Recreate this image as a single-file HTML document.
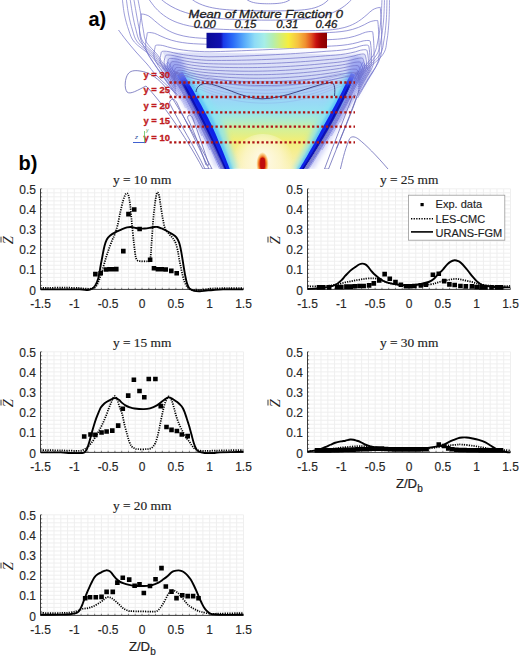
<!DOCTYPE html>
<html><head><meta charset="utf-8"><style>
html,body{margin:0;padding:0;background:#fff;width:520px;height:659px;overflow:hidden}
svg{display:block}
.tk{font-family:"Liberation Sans",sans-serif;font-size:12px;fill:#262626;stroke:#262626;stroke-width:0.14px}
.lg{font-family:"Liberation Sans",sans-serif;font-size:11px;fill:#1e1e1e;stroke:#1e1e1e;stroke-width:0.15px}
.ttl{font-family:"Liberation Serif",serif;font-size:12.3px;fill:#222;stroke:#222;stroke-width:0.15px}
.yl{font-family:"Liberation Serif",serif;font-style:italic;font-size:14.5px;fill:#262626}
.xl{font-family:"Liberation Sans",sans-serif;font-size:13.2px;fill:#222;stroke:#222;stroke-width:0.2px}
.cbt{font-family:"Liberation Sans",sans-serif;font-style:italic;font-size:11.6px;fill:#1a1a1a;stroke:#1a1a1a;stroke-width:0.3px}
.cbl{font-family:"Liberation Sans",sans-serif;font-style:italic;font-size:10.3px;fill:#1a1a1a;stroke:#1a1a1a;stroke-width:0.3px}
.rl{font-family:"Liberation Sans",sans-serif;font-weight:bold;font-size:9.4px;fill:#c01a1e;stroke:#c01a1e;stroke-width:0.3px}
.lab{font-family:"Liberation Sans",sans-serif;font-weight:bold;font-size:20px;fill:#000}
</style></head><body>
<svg width="520" height="659" viewBox="0 0 520 659">
<rect width="520" height="659" fill="#fff"/>
<defs>
<clipPath id="pa"><rect x="118" y="0" width="275" height="169.0"/></clipPath>
<linearGradient id="vg" x1="0" y1="55" x2="0" y2="170" gradientUnits="userSpaceOnUse">
<stop offset="0" stop-color="#dcdff8"/>
<stop offset="0.174" stop-color="#c8d4f6"/>
<stop offset="0.304" stop-color="#b0cef6"/>
<stop offset="0.409" stop-color="#98d8f6"/>
<stop offset="0.496" stop-color="#96e4f0"/>
<stop offset="0.583" stop-color="#b4ecc4"/>
<stop offset="0.652" stop-color="#d6f096"/>
<stop offset="0.739" stop-color="#f0ee78"/>
<stop offset="0.843" stop-color="#f6ee92"/>
<stop offset="1" stop-color="#faf2b8"/>
</linearGradient>
<linearGradient id="lav" x1="0" y1="48" x2="0" y2="80" gradientUnits="userSpaceOnUse"><stop offset="0" stop-color="#e8eafa" stop-opacity="0"/><stop offset="0.5" stop-color="#dfe2f8" stop-opacity="0.8"/><stop offset="1" stop-color="#d0d8f6"/></linearGradient>
<linearGradient id="bmg" x1="0" y1="60" x2="0" y2="86" gradientUnits="userSpaceOnUse"><stop offset="0" stop-color="#fff" stop-opacity="0"/><stop offset="1" stop-color="#fff" stop-opacity="1"/></linearGradient>
<mask id="bandmask" maskUnits="userSpaceOnUse" x="100" y="0" width="300" height="180"><rect x="100" y="0" width="300" height="180" fill="url(#bmg)"/></mask>
<radialGradient id="cream" cx="263" cy="158" r="30" gradientUnits="userSpaceOnUse" gradientTransform="translate(263 158) scale(1 1.1) translate(-263 -158)">
<stop offset="0" stop-color="#fffaf0" stop-opacity="0.95"/>
<stop offset="0.6" stop-color="#fff8e0" stop-opacity="0.6"/>
<stop offset="1" stop-color="#fff8e0" stop-opacity="0"/>
</radialGradient>
<radialGradient id="hot" cx="262.5" cy="164" r="9" gradientUnits="userSpaceOnUse" gradientTransform="translate(262.5 164) scale(0.7 1.35) translate(-262.5 -164)">
<stop offset="0" stop-color="#b80000"/>
<stop offset="0.35" stop-color="#d02000"/>
<stop offset="0.6" stop-color="#f07020"/>
<stop offset="0.85" stop-color="#f8c060" stop-opacity="0.6"/>
<stop offset="1" stop-color="#f8e0a0" stop-opacity="0"/>
</radialGradient>
<linearGradient id="cb" x1="206.5" y1="0" x2="327" y2="0" gradientUnits="userSpaceOnUse">
<stop offset="0" stop-color="#0a0a96"/>
<stop offset="0.12" stop-color="#1010b0"/>
<stop offset="0.14" stop-color="#1838e8"/>
<stop offset="0.22" stop-color="#2a6cf8"/>
<stop offset="0.32" stop-color="#5cb0fa"/>
<stop offset="0.40" stop-color="#8edcf6"/>
<stop offset="0.48" stop-color="#a6eee8"/>
<stop offset="0.55" stop-color="#b4eeb0"/>
<stop offset="0.62" stop-color="#d8ee70"/>
<stop offset="0.68" stop-color="#f6ee3e"/>
<stop offset="0.76" stop-color="#f6c040"/>
<stop offset="0.82" stop-color="#f09030"/>
<stop offset="0.87" stop-color="#e05020"/>
<stop offset="0.91" stop-color="#c81010"/>
<stop offset="0.95" stop-color="#a00000"/>
<stop offset="1" stop-color="#880000"/>
</linearGradient>
<filter id="bl1" x="-20%" y="-20%" width="140%" height="140%"><feGaussianBlur stdDeviation="1.2"/></filter>
<filter id="bl2" x="-20%" y="-20%" width="140%" height="140%"><feGaussianBlur stdDeviation="2.5"/></filter>
<filter id="bl05" x="-20%" y="-20%" width="140%" height="140%"><feGaussianBlur stdDeviation="0.6"/></filter>

</defs>
<g clip-path="url(#pa)">
<polygon points="162.4,52.0 164.8,56.0 167.1,60.0 169.4,64.0 171.7,68.0 174.0,72.0 176.2,76.0 178.5,80.0 180.7,84.0 182.8,88.0 185.0,92.0 187.1,96.0 189.3,100.0 191.3,104.0 193.4,108.0 195.5,112.0 197.5,116.0 199.5,120.0 201.5,124.0 203.4,128.0 205.4,132.0 207.3,136.0 209.2,140.0 211.1,144.0 212.9,148.0 214.7,152.0 216.6,156.0 218.3,160.0 220.1,164.0 221.8,168.0 304.8,171.0 307.3,167.0 309.9,163.0 312.4,159.0 314.8,155.0 317.3,151.0 319.7,147.0 322.0,143.0 324.4,139.0 326.7,135.0 328.9,131.0 331.2,127.0 333.4,123.0 335.5,119.0 337.7,115.0 339.7,111.0 341.8,107.0 343.8,103.0 345.8,99.0 347.8,95.0 349.7,91.0 351.6,87.0 353.5,83.0 355.3,79.0 357.1,75.0 358.9,71.0 360.6,67.0 362.3,63.0 364.0,59.0 365.6,55.0" fill="url(#vg)"/>
<polygon points="154.1,48 374.4,48 350.9,80 182.5,80" fill="url(#lav)"/>
<ellipse cx="263" cy="160" rx="30" ry="26" fill="url(#cream)"/>
<ellipse cx="262.5" cy="164" rx="7.5" ry="12" fill="url(#hot)"/><rect x="260.2" y="157.5" width="4.8" height="12" rx="2.4" fill="#c01010" filter="url(#bl05)"/>
<g mask="url(#bandmask)"><path d="M182.28,74.86 C182.86,75.86 184.59,78.88 185.73,80.89 C186.87,82.90 188.00,84.91 189.13,86.92 C190.25,88.93 191.37,90.95 192.48,92.96 C193.59,94.97 194.69,96.98 195.78,98.99 C196.87,101.00 197.95,103.02 199.03,105.03 C200.10,107.04 201.17,109.05 202.23,111.07 C203.28,113.08 204.35,115.09 205.38,117.10 C206.41,119.12 207.42,121.15 208.42,123.17 C209.42,125.20 210.42,127.22 211.37,129.26 C212.33,131.30 213.23,133.36 214.15,135.41 C215.06,137.46 215.97,139.51 216.87,141.56 C217.77,143.61 218.66,145.66 219.54,147.70 C220.42,149.75 221.30,151.80 222.16,153.85 C223.03,155.89 223.88,157.94 224.73,159.99 C225.58,162.04 226.42,164.08 227.25,166.13 C228.08,168.17 229.31,171.24 229.72,172.27 L237.18,169.09 C236.87,168.01 235.95,164.78 235.32,162.62 C234.69,160.47 234.05,158.31 233.41,156.15 C232.76,153.99 232.11,151.83 231.44,149.66 C230.78,147.50 230.10,145.34 229.42,143.17 C228.73,141.00 228.04,138.83 227.34,136.66 C226.64,134.49 225.93,132.32 225.20,130.15 C224.48,127.98 223.87,125.75 223.02,123.63 C222.16,121.51 221.10,119.48 220.08,117.43 C219.06,115.38 218.03,113.34 216.91,111.33 C215.79,109.32 214.56,107.37 213.37,105.39 C212.18,103.42 210.99,101.44 209.78,99.46 C208.58,97.49 207.37,95.52 206.15,93.54 C204.93,91.57 203.70,89.60 202.47,87.63 C201.23,85.65 199.99,83.68 198.74,81.72 C197.48,79.75 196.22,77.78 194.96,75.81 C193.69,73.84 191.77,70.90 191.13,69.91 Z" fill="#8ae4f2" fill-opacity="0.80" filter="url(#bl2)"/><path d="M179.32,71.25 C179.91,72.30 181.72,75.45 182.91,77.54 C184.10,79.64 185.28,81.74 186.45,83.84 C187.62,85.93 188.78,88.03 189.94,90.13 C191.09,92.22 192.23,94.32 193.37,96.42 C194.50,98.52 195.63,100.62 196.74,102.71 C197.86,104.81 198.97,106.91 200.07,109.01 C201.17,111.11 202.26,113.20 203.34,115.30 C204.41,117.41 205.48,119.51 206.53,121.61 C207.58,123.72 208.62,125.82 209.63,127.94 C210.65,130.05 211.63,132.18 212.60,134.30 C213.58,136.42 214.54,138.55 215.50,140.67 C216.45,142.80 217.40,144.92 218.34,147.04 C219.27,149.17 220.20,151.29 221.12,153.41 C222.04,155.54 222.95,157.66 223.85,159.78 C224.75,161.90 225.64,164.02 226.52,166.15 C227.41,168.27 228.71,171.45 229.14,172.51 L233.16,170.80 C232.78,169.71 231.65,166.44 230.88,164.25 C230.12,162.07 229.34,159.88 228.55,157.70 C227.76,155.51 226.96,153.32 226.16,151.14 C225.35,148.95 224.53,146.76 223.71,144.57 C222.88,142.38 222.05,140.19 221.20,138.00 C220.36,135.81 219.51,133.61 218.64,131.42 C217.76,129.23 216.90,127.03 215.93,124.88 C214.96,122.72 213.88,120.62 212.80,118.51 C211.73,116.40 210.61,114.30 209.47,112.22 C208.33,110.13 207.15,108.06 205.98,105.98 C204.81,103.90 203.63,101.82 202.44,99.75 C201.25,97.67 200.06,95.59 198.85,93.52 C197.64,91.44 196.43,89.37 195.20,87.29 C193.98,85.22 192.75,83.14 191.50,81.07 C190.26,79.00 189.01,76.92 187.75,74.85 C186.49,72.78 184.58,69.67 183.95,68.64 Z" fill="#5cc4f8" fill-opacity="0.90" filter="url(#bl1)"/><path d="M176.97,75.21 C177.53,76.24 179.21,79.35 180.32,81.43 C181.43,83.50 182.53,85.57 183.62,87.65 C184.71,89.72 185.80,91.79 186.87,93.87 C187.94,95.94 189.01,98.01 190.06,100.08 C191.12,102.16 192.17,104.23 193.21,106.30 C194.24,108.37 195.27,110.44 196.29,112.52 C197.31,114.59 198.32,116.66 199.33,118.73 C200.34,120.80 201.35,122.86 202.36,124.92 C203.37,126.98 204.36,129.04 205.38,131.08 C206.40,133.13 207.47,135.15 208.50,137.18 C209.53,139.21 210.55,141.24 211.57,143.28 C212.58,145.31 213.59,147.34 214.59,149.37 C215.59,151.41 216.58,153.44 217.56,155.47 C218.54,157.51 219.51,159.54 220.48,161.57 C221.44,163.61 222.40,165.64 223.34,167.68 C224.29,169.71 225.69,172.76 226.16,173.78 L230.87,171.78 C230.46,170.72 229.26,167.57 228.44,165.46 C227.63,163.36 226.80,161.25 225.97,159.14 C225.13,157.04 224.29,154.93 223.43,152.82 C222.58,150.71 221.72,148.60 220.85,146.49 C219.98,144.39 219.10,142.28 218.21,140.17 C217.32,138.06 216.43,135.94 215.52,133.83 C214.61,131.72 213.73,129.60 212.76,127.50 C211.79,125.41 210.75,123.35 209.72,121.29 C208.68,119.22 207.63,117.15 206.56,115.10 C205.49,113.04 204.38,111.00 203.27,108.95 C202.17,106.90 201.06,104.86 199.94,102.81 C198.81,100.76 197.68,98.71 196.55,96.66 C195.41,94.62 194.26,92.57 193.11,90.52 C191.95,88.48 190.79,86.43 189.61,84.39 C188.44,82.34 187.26,80.29 186.07,78.25 C184.88,76.20 183.07,73.14 182.47,72.12 Z" fill="#0a20e8" fill-opacity="1.00" filter="url(#bl05)"/><path d="M180.08,81.32 C180.60,82.29 182.15,85.21 183.18,87.16 C184.20,89.11 185.22,91.06 186.23,93.01 C187.24,94.95 188.24,96.90 189.23,98.85 C190.23,100.80 191.21,102.74 192.19,104.69 C193.17,106.64 194.14,108.58 195.10,110.53 C196.06,112.48 197.02,114.42 197.97,116.37 C198.91,118.31 199.85,120.26 200.79,122.20 C201.74,124.14 202.70,126.07 203.65,128.00 C204.61,129.92 205.56,131.84 206.53,133.76 C207.50,135.67 208.49,137.57 209.45,139.48 C210.42,141.38 211.38,143.29 212.33,145.20 C213.28,147.11 214.23,149.01 215.16,150.92 C216.10,152.83 217.03,154.74 217.95,156.65 C218.87,158.55 219.79,160.46 220.69,162.37 C221.60,164.28 222.50,166.19 223.39,168.10 C224.28,170.01 225.60,172.88 226.04,173.83 L228.11,172.95 C227.70,171.98 226.46,169.07 225.62,167.13 C224.78,165.19 223.94,163.26 223.08,161.32 C222.23,159.38 221.37,157.44 220.50,155.50 C219.63,153.56 218.76,151.62 217.87,149.68 C216.99,147.74 216.10,145.80 215.20,143.86 C214.30,141.92 213.39,139.98 212.47,138.05 C211.56,136.11 210.64,134.17 209.71,132.23 C208.78,130.29 207.83,128.35 206.89,126.41 C205.94,124.47 204.98,122.54 204.02,120.60 C203.05,118.66 202.08,116.72 201.10,114.79 C200.12,112.85 199.13,110.91 198.13,108.98 C197.13,107.04 196.13,105.10 195.12,103.17 C194.10,101.23 193.08,99.29 192.06,97.35 C191.03,95.42 189.99,93.48 188.95,91.54 C187.91,89.61 186.86,87.67 185.80,85.73 C184.74,83.80 183.13,80.89 182.60,79.92 Z" fill="#0000a0" fill-opacity="0.85" filter="url(#bl05)"/><path d="M155.43,63.83 C156.20,64.88 158.52,68.03 160.05,70.14 C161.58,72.24 163.10,74.35 164.61,76.46 C166.12,78.57 167.62,80.68 169.11,82.79 C170.60,84.90 172.08,87.01 173.55,89.12 C175.02,91.24 176.48,93.35 177.93,95.47 C179.38,97.59 180.83,99.71 182.26,101.83 C183.69,103.95 185.12,106.07 186.53,108.19 C187.93,110.32 189.42,112.41 190.69,114.60 C191.95,116.79 192.98,119.10 194.11,121.35 C195.24,123.60 196.36,125.85 197.47,128.10 C198.58,130.35 199.68,132.61 200.76,134.86 C201.85,137.11 202.93,139.36 204.00,141.61 C205.06,143.86 206.12,146.11 207.17,148.36 C208.21,150.61 209.25,152.86 210.27,155.11 C211.30,157.36 212.31,159.61 213.32,161.86 C214.32,164.10 215.80,167.48 216.30,168.60 L222.71,165.80 C222.21,164.67 220.72,161.27 219.71,159.00 C218.70,156.74 217.68,154.47 216.64,152.20 C215.61,149.94 214.57,147.67 213.51,145.41 C212.46,143.14 211.40,140.87 210.32,138.61 C209.25,136.34 208.16,134.07 207.07,131.81 C205.97,129.54 204.86,127.28 203.75,125.01 C202.63,122.74 201.50,120.48 200.36,118.21 C199.23,115.94 198.08,113.68 196.92,111.41 C195.76,109.14 194.59,106.88 193.41,104.61 C192.23,102.34 191.04,100.08 189.83,97.81 C188.63,95.55 187.42,93.28 186.20,91.01 C184.98,88.75 183.74,86.48 182.50,84.21 C181.25,81.95 180.00,79.68 178.74,77.41 C177.47,75.15 176.19,72.88 174.91,70.61 C173.62,68.35 172.33,66.08 171.02,63.81 C169.71,61.54 167.72,58.14 167.06,57.01 Z" fill="#6a72e8" fill-opacity="0.35" filter="url(#bl2)"/><path d="M165.64,60.52 C165.81,60.81 166.32,61.68 166.66,62.26 C166.99,62.84 167.33,63.42 167.67,64.00 C168.00,64.58 168.34,65.17 168.67,65.75 C169.01,66.33 169.34,66.91 169.67,67.49 C170.01,68.07 170.34,68.65 170.67,69.23 C171.00,69.81 171.33,70.39 171.66,70.97 C171.99,71.55 172.32,72.13 172.65,72.71 C172.98,73.30 173.31,73.88 173.64,74.46 C173.96,75.04 174.29,75.62 174.62,76.20 C174.94,76.78 175.27,77.36 175.59,77.94 C175.92,78.52 176.24,79.10 176.57,79.68 C176.89,80.26 177.21,80.84 177.53,81.42 C177.86,82.01 178.18,82.59 178.50,83.17 C178.82,83.75 179.14,84.33 179.46,84.91 C179.78,85.49 180.10,86.07 180.41,86.65 C180.73,87.23 181.21,88.10 181.37,88.39 L187.51,85.04 C187.35,84.75 186.87,83.87 186.55,83.29 C186.23,82.71 185.91,82.12 185.59,81.54 C185.27,80.95 184.95,80.37 184.63,79.78 C184.30,79.20 183.98,78.61 183.66,78.03 C183.33,77.45 183.01,76.86 182.68,76.28 C182.36,75.69 182.03,75.11 181.70,74.52 C181.38,73.94 181.05,73.35 180.72,72.77 C180.39,72.19 180.06,71.60 179.73,71.02 C179.40,70.43 179.07,69.85 178.74,69.26 C178.41,68.68 178.08,68.10 177.75,67.51 C177.41,66.93 177.08,66.34 176.75,65.76 C176.41,65.17 176.08,64.59 175.74,64.00 C175.41,63.42 175.07,62.84 174.74,62.25 C174.40,61.67 174.06,61.08 173.72,60.50 C173.39,59.91 173.05,59.33 172.71,58.75 C172.37,58.16 171.86,57.28 171.69,56.99 Z" fill="#3a48e0" fill-opacity="0.45" filter="url(#bl2)"/><path d="M351.14,75.31 C350.67,76.32 349.28,79.33 348.34,81.33 C347.39,83.34 346.43,85.34 345.46,87.35 C344.49,89.36 343.51,91.36 342.51,93.37 C341.51,95.37 340.50,97.38 339.48,99.38 C338.46,101.39 337.42,103.39 336.37,105.40 C335.33,107.40 334.26,109.41 333.19,111.41 C332.12,113.42 331.02,115.42 329.93,117.43 C328.84,119.43 327.75,121.45 326.64,123.46 C325.53,125.48 324.41,127.49 323.29,129.51 C322.18,131.54 321.09,133.58 319.96,135.61 C318.84,137.65 317.70,139.68 316.55,141.72 C315.40,143.75 314.24,145.79 313.06,147.82 C311.89,149.86 310.70,151.89 309.50,153.93 C308.29,155.97 307.08,158.00 305.85,160.04 C304.62,162.08 303.38,164.11 302.13,166.15 C300.87,168.19 298.96,171.25 298.33,172.27 L293.43,169.08 C293.99,168.03 295.68,164.86 296.79,162.75 C297.89,160.63 298.98,158.53 300.06,156.42 C301.13,154.31 302.20,152.21 303.25,150.10 C304.30,148.00 305.33,145.90 306.35,143.80 C307.37,141.70 308.38,139.60 309.38,137.50 C310.37,135.41 311.35,133.31 312.32,131.22 C313.28,129.13 314.15,126.99 315.17,124.95 C316.19,122.91 317.34,120.94 318.43,118.96 C319.53,116.97 320.62,114.99 321.75,113.04 C322.88,111.08 324.07,109.17 325.21,107.24 C326.36,105.30 327.49,103.37 328.61,101.43 C329.73,99.50 330.83,97.56 331.93,95.62 C333.02,93.69 334.10,91.75 335.17,89.81 C336.24,87.87 337.30,85.93 338.35,83.99 C339.39,82.05 340.43,80.11 341.45,78.16 C342.47,76.22 343.97,73.31 344.47,72.33 Z" fill="#8ae4f2" fill-opacity="0.80" filter="url(#bl2)"/><path d="M353.44,71.56 C352.97,72.61 351.56,75.75 350.60,77.84 C349.64,79.94 348.66,82.03 347.67,84.13 C346.68,86.22 345.67,88.31 344.66,90.41 C343.64,92.50 342.61,94.59 341.56,96.69 C340.51,98.78 339.46,100.87 338.38,102.97 C337.31,105.06 336.22,107.15 335.12,109.25 C334.02,111.34 332.90,113.43 331.77,115.52 C330.65,117.62 329.51,119.71 328.36,121.81 C327.21,123.91 326.05,126.01 324.89,128.11 C323.73,130.22 322.57,132.33 321.39,134.44 C320.21,136.56 319.02,138.67 317.82,140.78 C316.62,142.90 315.40,145.01 314.17,147.13 C312.93,149.24 311.69,151.36 310.43,153.47 C309.17,155.58 307.89,157.70 306.60,159.82 C305.31,161.93 304.01,164.05 302.69,166.16 C301.38,168.28 299.37,171.45 298.70,172.51 L296.07,170.80 C296.69,169.72 298.58,166.48 299.81,164.32 C301.04,162.17 302.26,160.01 303.46,157.86 C304.67,155.70 305.86,153.55 307.03,151.40 C308.21,149.24 309.37,147.09 310.51,144.94 C311.66,142.79 312.79,140.64 313.90,138.50 C315.02,136.35 316.11,134.20 317.21,132.06 C318.31,129.92 319.37,127.77 320.49,125.66 C321.61,123.55 322.78,121.48 323.94,119.40 C325.09,117.33 326.25,115.26 327.41,113.21 C328.56,111.15 329.73,109.10 330.87,107.05 C332.01,104.99 333.14,102.94 334.25,100.88 C335.37,98.83 336.47,96.77 337.55,94.72 C338.64,92.66 339.71,90.60 340.77,88.55 C341.83,86.49 342.88,84.43 343.91,82.38 C344.94,80.32 345.96,78.26 346.96,76.20 C347.97,74.14 349.44,71.05 349.94,70.02 Z" fill="#5cc4f8" fill-opacity="0.90" filter="url(#bl1)"/><path d="M355.19,74.72 C354.73,75.76 353.39,78.87 352.47,80.95 C351.54,83.03 350.61,85.11 349.66,87.19 C348.71,89.27 347.75,91.35 346.78,93.43 C345.80,95.50 344.81,97.58 343.81,99.66 C342.81,101.74 341.79,103.82 340.77,105.90 C339.74,107.98 338.69,110.06 337.64,112.14 C336.58,114.22 335.52,116.31 334.43,118.38 C333.34,120.46 332.23,122.53 331.10,124.61 C329.98,126.68 328.84,128.75 327.67,130.81 C326.49,132.87 325.27,134.91 324.05,136.96 C322.83,139.01 321.60,141.06 320.35,143.10 C319.11,145.15 317.85,147.20 316.57,149.24 C315.30,151.29 314.01,153.34 312.71,155.38 C311.41,157.43 310.10,159.47 308.77,161.52 C307.45,163.56 306.11,165.61 304.76,167.65 C303.40,169.70 301.34,172.76 300.66,173.78 L297.57,171.78 C298.21,170.73 300.13,167.59 301.38,165.50 C302.64,163.41 303.88,161.32 305.11,159.23 C306.34,157.14 307.55,155.05 308.75,152.96 C309.95,150.87 311.14,148.78 312.32,146.70 C313.49,144.61 314.65,142.52 315.80,140.44 C316.94,138.35 318.07,136.26 319.19,134.18 C320.31,132.09 321.40,130.00 322.52,127.93 C323.64,125.86 324.79,123.82 325.92,121.77 C327.05,119.73 328.17,117.68 329.29,115.64 C330.41,113.60 331.53,111.57 332.63,109.54 C333.73,107.50 334.82,105.47 335.90,103.43 C336.97,101.40 338.03,99.36 339.08,97.32 C340.13,95.29 341.17,93.25 342.19,91.21 C343.21,89.18 344.22,87.14 345.22,85.10 C346.21,83.07 347.19,81.03 348.16,78.99 C349.13,76.95 350.55,73.90 351.03,72.88 Z" fill="#0a20e8" fill-opacity="1.00" filter="url(#bl05)"/><path d="M352.65,80.81 C352.22,81.79 350.92,84.72 350.03,86.67 C349.14,88.63 348.24,90.58 347.33,92.53 C346.42,94.49 345.50,96.44 344.56,98.40 C343.63,100.35 342.68,102.30 341.72,104.26 C340.76,106.21 339.79,108.17 338.81,110.12 C337.83,112.08 336.83,114.03 335.83,115.99 C334.82,117.94 333.81,119.90 332.76,121.85 C331.72,123.80 330.66,125.74 329.57,127.68 C328.49,129.62 327.40,131.56 326.27,133.49 C325.15,135.42 323.99,137.34 322.83,139.26 C321.67,141.18 320.51,143.11 319.32,145.03 C318.14,146.95 316.95,148.87 315.75,150.79 C314.54,152.72 313.33,154.64 312.10,156.56 C310.87,158.48 309.63,160.40 308.38,162.32 C307.13,164.24 305.87,166.16 304.59,168.08 C303.32,170.00 301.38,172.87 300.73,173.83 L299.38,172.95 C300.00,171.98 301.88,169.07 303.12,167.14 C304.35,165.20 305.58,163.26 306.79,161.32 C308.00,159.38 309.20,157.44 310.38,155.50 C311.57,153.57 312.75,151.63 313.91,149.69 C315.07,147.75 316.22,145.81 317.36,143.87 C318.50,141.93 319.63,140.00 320.75,138.06 C321.86,136.12 322.97,134.18 324.06,132.24 C325.15,130.31 326.24,128.37 327.31,126.43 C328.38,124.49 329.44,122.56 330.48,120.62 C331.53,118.68 332.57,116.75 333.59,114.81 C334.62,112.87 335.63,110.94 336.63,109.00 C337.63,107.06 338.62,105.13 339.60,103.19 C340.58,101.25 341.55,99.32 342.50,97.38 C343.45,95.44 344.40,93.51 345.33,91.57 C346.26,89.64 347.18,87.70 348.08,85.76 C348.99,83.83 350.32,80.92 350.77,79.95 Z" fill="#0000a0" fill-opacity="0.85" filter="url(#bl05)"/><path d="M375.54,61.81 C374.94,62.92 373.14,66.26 371.91,68.48 C370.68,70.70 369.44,72.92 368.19,75.13 C366.93,77.35 365.66,79.56 364.37,81.76 C363.08,83.97 361.78,86.17 360.46,88.37 C359.15,90.57 357.82,92.77 356.47,94.96 C355.12,97.16 353.76,99.35 352.38,101.53 C351.01,103.72 349.61,105.90 348.21,108.09 C346.81,110.27 345.30,112.40 344.00,114.65 C342.69,116.89 341.59,119.25 340.36,121.55 C339.14,123.85 337.89,126.15 336.63,128.45 C335.37,130.75 334.10,133.05 332.80,135.35 C331.51,137.65 330.20,139.95 328.88,142.24 C327.55,144.54 326.21,146.84 324.85,149.14 C323.49,151.44 322.12,153.74 320.73,156.03 C319.34,158.33 317.93,160.63 316.51,162.93 C315.09,165.22 312.91,168.67 312.19,169.82 L306.28,166.07 C306.99,164.93 309.15,161.52 310.56,159.24 C311.97,156.96 313.36,154.69 314.74,152.41 C316.12,150.13 317.48,147.86 318.83,145.58 C320.17,143.30 321.50,141.03 322.81,138.75 C324.12,136.47 325.42,134.19 326.70,131.92 C327.98,129.64 329.25,127.36 330.49,125.09 C331.74,122.81 332.97,120.53 334.19,118.25 C335.40,115.98 336.60,113.70 337.78,111.42 C338.97,109.14 340.13,106.87 341.28,104.59 C342.43,102.31 343.57,100.03 344.69,97.76 C345.80,95.48 346.90,93.20 347.99,90.92 C349.08,88.64 350.14,86.37 351.20,84.09 C352.25,81.81 353.29,79.53 354.31,77.25 C355.33,74.98 356.33,72.70 357.32,70.42 C358.30,68.14 359.28,65.86 360.23,63.59 C361.19,61.31 362.58,57.89 363.05,56.75 Z" fill="#6a72e8" fill-opacity="0.35" filter="url(#bl2)"/><path d="M365.01,59.89 C364.89,60.19 364.53,61.07 364.28,61.66 C364.04,62.25 363.80,62.83 363.55,63.42 C363.31,64.01 363.06,64.60 362.81,65.19 C362.57,65.77 362.32,66.36 362.07,66.95 C361.82,67.54 361.57,68.13 361.32,68.72 C361.07,69.30 360.81,69.89 360.56,70.48 C360.31,71.07 360.05,71.66 359.80,72.24 C359.54,72.83 359.28,73.42 359.03,74.01 C358.77,74.60 358.51,75.18 358.25,75.77 C357.99,76.36 357.73,76.95 357.47,77.54 C357.20,78.12 356.94,78.71 356.68,79.30 C356.41,79.89 356.15,80.48 355.88,81.06 C355.61,81.65 355.35,82.24 355.08,82.83 C354.81,83.42 354.54,84.00 354.27,84.59 C354.00,85.18 353.73,85.77 353.45,86.36 C353.18,86.94 352.77,87.82 352.63,88.12 L346.29,85.15 C346.43,84.86 346.83,83.99 347.10,83.41 C347.37,82.83 347.64,82.24 347.91,81.66 C348.18,81.08 348.44,80.50 348.71,79.92 C348.98,79.34 349.24,78.76 349.50,78.17 C349.77,77.59 350.03,77.01 350.29,76.43 C350.55,75.85 350.81,75.27 351.07,74.69 C351.33,74.10 351.59,73.52 351.85,72.94 C352.10,72.36 352.36,71.78 352.62,71.20 C352.87,70.62 353.12,70.03 353.38,69.45 C353.63,68.87 353.88,68.29 354.13,67.71 C354.38,67.13 354.63,66.55 354.88,65.96 C355.13,65.38 355.38,64.80 355.62,64.22 C355.87,63.64 356.12,63.06 356.36,62.48 C356.60,61.89 356.85,61.31 357.09,60.73 C357.33,60.15 357.57,59.57 357.81,58.99 C358.05,58.41 358.41,57.53 358.53,57.24 Z" fill="#3a48e0" fill-opacity="0.45" filter="url(#bl2)"/></g>
<ellipse cx="176.0" cy="70.0" rx="9" ry="14" fill="#5a6ae8" fill-opacity="0.45" filter="url(#bl2)"/>
<ellipse cx="356.4" cy="70.0" rx="9" ry="14" fill="#5a6ae8" fill-opacity="0.45" filter="url(#bl2)"/>
<path d="M247.00,-0.30 C247.36,-0.09 248.43,0.62 249.15,0.99 C249.87,1.36 250.58,1.64 251.30,1.89 C252.02,2.15 252.73,2.34 253.45,2.52 C254.17,2.70 254.88,2.84 255.60,2.96 C256.32,3.08 257.03,3.18 257.75,3.26 C258.47,3.35 259.18,3.41 259.90,3.47 C260.62,3.53 261.33,3.57 262.05,3.61 C262.77,3.65 263.48,3.67 264.20,3.70 C264.92,3.72 265.63,3.73 266.35,3.75 C267.07,3.76 267.78,3.76 268.50,3.76 C269.22,3.76 269.93,3.76 270.65,3.75 C271.37,3.73 272.08,3.72 272.80,3.70 C273.52,3.67 274.23,3.65 274.95,3.61 C275.67,3.57 276.38,3.53 277.10,3.47 C277.82,3.41 278.53,3.35 279.25,3.26 C279.97,3.18 280.68,3.08 281.40,2.96 C282.12,2.84 282.83,2.70 283.55,2.52 C284.27,2.34 284.98,2.15 285.70,1.89 C286.42,1.64 287.13,1.36 287.85,0.99 C288.57,0.62 289.64,-0.09 290.00,-0.30" stroke="#7070c8" stroke-width="0.75" stroke-opacity="1.00" fill="none"/><path d="M192.30,-0.30 C192.87,0.06 194.57,1.21 195.71,1.87 C196.84,2.52 197.98,3.09 199.11,3.62 C200.25,4.14 201.38,4.61 202.52,5.03 C203.65,5.46 204.79,5.83 205.92,6.18 C207.06,6.52 208.19,6.82 209.33,7.10 C210.46,7.38 211.60,7.62 212.73,7.85 C213.87,8.07 215.00,8.27 216.14,8.45 C217.27,8.63 218.41,8.79 219.54,8.94 C220.68,9.09 221.81,9.22 222.95,9.33 C224.08,9.45 225.22,9.56 226.35,9.65 C227.49,9.75 228.62,9.83 229.75,9.91 C230.89,9.99 232.03,10.06 233.16,10.12 C234.29,10.18 235.43,10.24 236.56,10.29 C237.70,10.34 238.84,10.38 239.97,10.42 C241.10,10.46 242.24,10.50 243.38,10.53 C244.51,10.56 245.65,10.59 246.78,10.62 C247.91,10.64 249.05,10.67 250.19,10.69 C251.32,10.71 252.46,10.73 253.59,10.74 C254.72,10.76 255.86,10.77 257.00,10.78 C258.13,10.80 259.26,10.81 260.40,10.82 C261.53,10.83 262.67,10.83 263.81,10.84 C264.94,10.84 266.08,10.85 267.21,10.85 C268.35,10.86 269.48,10.86 270.62,10.86 C271.75,10.86 272.88,10.86 274.02,10.85 C275.15,10.85 276.29,10.84 277.43,10.84 C278.56,10.83 279.70,10.82 280.83,10.81 C281.97,10.79 283.10,10.78 284.24,10.76 C285.37,10.74 286.50,10.72 287.64,10.70 C288.77,10.67 289.91,10.64 291.05,10.60 C292.18,10.56 293.31,10.52 294.45,10.47 C295.58,10.42 296.72,10.36 297.86,10.29 C298.99,10.22 300.12,10.14 301.26,10.04 C302.39,9.94 303.53,9.83 304.66,9.70 C305.80,9.56 306.94,9.41 308.07,9.23 C309.20,9.04 310.34,8.84 311.48,8.59 C312.61,8.34 313.75,8.06 314.88,7.72 C316.01,7.38 317.15,7.00 318.29,6.53 C319.42,6.06 320.56,5.55 321.69,4.91 C322.82,4.27 323.96,3.57 325.10,2.71 C326.23,1.84 327.93,0.20 328.50,-0.30" stroke="#7070c8" stroke-width="0.75" stroke-opacity="1.00" fill="none"/><path d="M161.50,-0.30 C162.29,0.30 164.67,2.20 166.25,3.30 C167.83,4.39 169.42,5.37 171.00,6.27 C172.58,7.18 174.17,7.98 175.75,8.73 C177.33,9.48 178.92,10.15 180.50,10.77 C182.08,11.39 183.67,11.94 185.25,12.45 C186.83,12.96 188.42,13.42 190.00,13.84 C191.58,14.26 193.17,14.64 194.75,14.99 C196.33,15.34 197.92,15.65 199.50,15.94 C201.08,16.23 202.67,16.48 204.25,16.72 C205.83,16.96 207.42,17.18 209.00,17.38 C210.58,17.58 212.17,17.76 213.75,17.93 C215.33,18.10 216.92,18.25 218.50,18.39 C220.08,18.53 221.67,18.65 223.25,18.77 C224.83,18.88 226.42,18.99 228.00,19.08 C229.58,19.18 231.17,19.26 232.75,19.34 C234.33,19.42 235.92,19.49 237.50,19.56 C239.08,19.62 240.67,19.68 242.25,19.73 C243.83,19.78 245.42,19.83 247.00,19.87 C248.58,19.91 250.17,19.94 251.75,19.98 C253.33,20.01 254.92,20.03 256.50,20.05 C258.08,20.08 259.67,20.09 261.25,20.11 C262.83,20.12 264.42,20.13 266.00,20.13 C267.58,20.13 269.17,20.13 270.75,20.13 C272.33,20.12 273.92,20.11 275.50,20.09 C277.08,20.08 278.67,20.05 280.25,20.02 C281.83,19.99 283.42,19.96 285.00,19.91 C286.58,19.87 288.17,19.82 289.75,19.76 C291.33,19.69 292.92,19.62 294.50,19.54 C296.08,19.45 297.67,19.36 299.25,19.24 C300.83,19.13 302.42,19.01 304.00,18.86 C305.58,18.71 307.17,18.55 308.75,18.36 C310.33,18.17 311.92,17.96 313.50,17.72 C315.08,17.47 316.67,17.20 318.25,16.89 C319.83,16.58 321.42,16.23 323.00,15.83 C324.58,15.43 326.17,14.99 327.75,14.48 C329.33,13.96 330.92,13.40 332.50,12.74 C334.08,12.08 335.67,11.37 337.25,10.54 C338.83,9.70 340.42,8.80 342.00,7.74 C343.58,6.68 345.17,5.53 346.75,4.19 C348.33,2.85 350.71,0.44 351.50,-0.31" stroke="#7070c8" stroke-width="0.75" stroke-opacity="1.00" fill="none"/><path d="M149.20,-0.30 C150.16,0.96 153.02,5.05 154.93,7.25 C156.84,9.45 158.75,11.27 160.66,12.92 C162.58,14.57 164.49,15.93 166.40,17.18 C168.31,18.42 170.22,19.44 172.13,20.37 C174.04,21.30 175.95,22.07 177.86,22.77 C179.77,23.47 181.68,24.05 183.59,24.57 C185.51,25.10 187.42,25.53 189.33,25.93 C191.24,26.32 193.15,26.64 195.06,26.94 C196.97,27.24 198.88,27.48 200.79,27.70 C202.70,27.93 204.61,28.10 206.52,28.28 C208.44,28.45 210.35,28.61 212.26,28.75 C214.17,28.89 216.08,29.01 217.99,29.12 C219.90,29.23 221.81,29.32 223.72,29.41 C225.63,29.49 227.54,29.57 229.45,29.64 C231.37,29.70 233.28,29.76 235.19,29.82 C237.10,29.88 239.01,29.92 240.92,29.97 C242.83,30.02 244.74,30.06 246.65,30.10 C248.56,30.13 250.47,30.17 252.38,30.20 C254.30,30.23 256.21,30.26 258.12,30.29 C260.03,30.32 261.94,30.35 263.85,30.37 C265.76,30.40 267.67,30.42 269.58,30.44 C271.49,30.46 273.40,30.48 275.31,30.50 C277.23,30.52 279.14,30.54 281.05,30.56 C282.96,30.58 284.87,30.59 286.78,30.61 C288.69,30.62 290.60,30.64 292.51,30.65 C294.42,30.66 296.33,30.67 298.25,30.67 C300.16,30.68 302.07,30.68 303.98,30.68 C305.89,30.67 307.80,30.67 309.71,30.65 C311.62,30.64 313.53,30.62 315.44,30.58 C317.35,30.54 319.26,30.50 321.18,30.42 C323.09,30.35 325.00,30.28 326.91,30.15 C328.82,30.01 330.73,29.85 332.64,29.63 C334.55,29.41 336.46,29.16 338.37,28.82 C340.28,28.48 342.19,28.10 344.11,27.58 C346.02,27.06 347.93,26.48 349.84,25.72 C351.75,24.96 353.66,24.09 355.57,23.02 C357.48,21.95 359.39,20.71 361.30,19.31 C363.21,17.91 365.12,16.23 367.03,14.63 C368.95,13.03 370.76,10.89 372.77,9.72 C374.78,8.54 377.81,7.55 379.10,7.60 C380.39,7.65 380.10,5.55 380.50,10.00 C380.90,14.45 381.50,26.46 381.50,34.30 C381.50,42.14 382.75,49.47 380.50,57.05 C378.25,64.63 371.85,72.97 368.02,79.80 C364.19,86.62 359.28,94.97 357.54,98.00" stroke="#7070c8" stroke-width="0.75" stroke-opacity="0.95" fill="none"/><path d="M176.73,95.80 C173.08,90.59 160.86,74.13 154.81,64.53 C148.75,54.92 142.70,46.19 140.40,38.19 C138.10,30.19 140.67,20.52 141.00,16.50 C141.33,12.48 141.10,14.18 142.40,14.10 C143.70,14.02 146.78,14.92 148.82,16.03 C150.87,17.15 152.71,19.21 154.65,20.79 C156.59,22.37 158.53,24.08 160.47,25.52 C162.42,26.96 164.36,28.29 166.30,29.44 C168.24,30.59 170.18,31.56 172.12,32.41 C174.07,33.27 176.01,33.95 177.95,34.56 C179.89,35.16 181.83,35.63 183.78,36.05 C185.72,36.47 187.66,36.79 189.60,37.07 C191.54,37.35 193.48,37.56 195.43,37.75 C197.37,37.94 199.31,38.07 201.25,38.20 C203.19,38.32 205.13,38.45 207.07,38.48 C209.02,38.51 210.96,38.43 212.90,38.38 C214.84,38.34 216.78,38.28 218.73,38.21 C220.67,38.15 222.61,38.07 224.55,38.00 C226.49,37.92 228.43,37.84 230.38,37.75 C232.32,37.67 234.26,37.58 236.20,37.49 C238.14,37.40 240.08,37.31 242.02,37.22 C243.97,37.13 245.91,37.03 247.85,36.94 C249.79,36.85 251.73,36.75 253.68,36.65 C255.62,36.56 257.56,36.46 259.50,36.37 C261.44,36.27 263.38,36.18 265.32,36.08 C267.27,35.98 269.21,35.88 271.15,35.79 C273.09,35.69 275.03,35.59 276.98,35.50 C278.92,35.40 280.86,35.30 282.80,35.20 C284.74,35.10 286.68,35.01 288.62,34.91 C290.57,34.81 292.51,34.71 294.45,34.61 C296.39,34.51 298.33,34.40 300.27,34.30 C302.22,34.20 304.16,34.09 306.10,33.98 C308.04,33.88 309.98,33.77 311.92,33.65 C313.87,33.53 315.81,33.42 317.75,33.29 C319.69,33.16 321.63,33.01 323.58,32.88 C325.52,32.74 327.46,32.62 329.40,32.50 C331.34,32.38 333.28,32.31 335.23,32.16 C337.17,32.01 339.11,31.84 341.05,31.60 C342.99,31.36 344.93,31.09 346.88,30.72 C348.82,30.34 350.76,29.91 352.70,29.35 C354.64,28.79 356.58,28.14 358.52,27.36 C360.47,26.58 362.41,25.63 364.35,24.70 C366.29,23.76 368.13,22.41 370.17,21.73 C372.22,21.05 375.30,20.39 376.60,20.60 C377.90,20.81 377.60,19.31 378.00,23.00 C378.40,26.69 379.00,36.29 379.00,42.74 C379.00,49.19 380.02,55.37 378.00,61.69 C375.98,68.01 370.24,74.95 366.86,80.64 C363.48,86.33 359.24,93.27 357.72,95.80" stroke="#7070c8" stroke-width="0.75" stroke-opacity="0.95" fill="none"/><path d="M176.46,93.60 C173.48,89.70 163.62,77.38 158.61,70.19 C153.60,63.01 148.34,56.35 146.40,50.48 C144.46,44.61 146.67,37.98 147.00,35.00 C147.33,32.02 147.14,32.88 148.40,32.60 C149.66,32.32 152.60,32.81 154.55,33.34 C156.50,33.88 158.25,35.00 160.10,35.81 C161.95,36.62 163.80,37.48 165.65,38.20 C167.50,38.92 169.35,39.57 171.20,40.13 C173.05,40.69 174.90,41.15 176.75,41.56 C178.60,41.96 180.45,42.28 182.30,42.56 C184.15,42.84 186.00,43.06 187.85,43.25 C189.70,43.43 191.55,43.57 193.40,43.70 C195.25,43.82 197.10,43.91 198.95,43.99 C200.80,44.07 202.65,44.15 204.50,44.18 C206.35,44.21 208.20,44.21 210.05,44.19 C211.90,44.17 213.75,44.11 215.60,44.06 C217.45,44.01 219.30,43.95 221.15,43.90 C223.00,43.84 224.85,43.78 226.70,43.72 C228.55,43.66 230.40,43.59 232.25,43.53 C234.10,43.46 235.95,43.40 237.80,43.33 C239.65,43.26 241.50,43.20 243.35,43.13 C245.20,43.06 247.05,42.99 248.90,42.92 C250.75,42.85 252.60,42.79 254.45,42.72 C256.30,42.65 258.15,42.58 260.00,42.51 C261.85,42.44 263.70,42.37 265.55,42.30 C267.40,42.23 269.25,42.16 271.10,42.09 C272.95,42.03 274.80,41.96 276.65,41.89 C278.50,41.82 280.35,41.75 282.20,41.68 C284.05,41.61 285.90,41.54 287.75,41.47 C289.60,41.40 291.45,41.32 293.30,41.25 C295.15,41.18 297.00,41.11 298.85,41.04 C300.70,40.96 302.55,40.89 304.40,40.82 C306.25,40.74 308.10,40.66 309.95,40.58 C311.80,40.50 313.65,40.42 315.50,40.33 C317.35,40.25 319.20,40.16 321.05,40.06 C322.90,39.95 324.75,39.82 326.60,39.73 C328.45,39.64 330.30,39.60 332.15,39.50 C334.00,39.41 335.85,39.31 337.70,39.15 C339.55,39.00 341.40,38.82 343.25,38.58 C345.10,38.33 346.95,38.05 348.80,37.67 C350.65,37.29 352.50,36.84 354.35,36.30 C356.20,35.76 358.05,35.10 359.90,34.43 C361.75,33.76 363.50,32.75 365.45,32.28 C367.40,31.81 370.34,31.31 371.60,31.60 C372.86,31.89 372.60,30.97 373.00,34.00 C373.40,37.03 374.00,44.54 374.00,49.78 C374.00,55.02 374.59,60.21 373.00,65.43 C371.41,70.65 366.96,76.39 364.44,81.08 C361.92,85.77 358.98,91.51 357.89,93.60" stroke="#7070c8" stroke-width="0.75" stroke-opacity="0.95" fill="none"/><path d="M176.18,91.40 C174.10,88.44 167.34,79.08 163.71,73.62 C160.08,68.16 155.85,62.98 154.40,58.64 C152.95,54.30 154.67,49.84 155.00,47.60 C155.33,45.36 155.19,45.56 156.40,45.20 C157.61,44.84 160.43,45.14 162.29,45.41 C164.15,45.69 165.81,46.40 167.57,46.87 C169.34,47.33 171.10,47.82 172.86,48.23 C174.62,48.63 176.39,48.98 178.15,49.30 C179.91,49.61 181.68,49.88 183.44,50.12 C185.20,50.36 186.96,50.56 188.72,50.73 C190.49,50.91 192.25,51.05 194.01,51.17 C195.77,51.30 197.54,51.40 199.30,51.49 C201.06,51.58 202.83,51.67 204.59,51.71 C206.35,51.76 208.11,51.76 209.88,51.75 C211.64,51.74 213.40,51.68 215.16,51.63 C216.92,51.59 218.69,51.54 220.45,51.49 C222.21,51.44 223.98,51.38 225.74,51.32 C227.50,51.26 229.26,51.20 231.02,51.14 C232.79,51.08 234.55,51.01 236.31,50.94 C238.08,50.88 239.84,50.81 241.60,50.74 C243.36,50.67 245.12,50.60 246.89,50.53 C248.65,50.46 250.41,50.38 252.18,50.31 C253.94,50.23 255.70,50.16 257.46,50.08 C259.22,50.00 260.99,49.92 262.75,49.84 C264.51,49.76 266.28,49.68 268.04,49.60 C269.80,49.52 271.56,49.44 273.32,49.35 C275.09,49.27 276.85,49.18 278.61,49.09 C280.38,49.01 282.14,48.92 283.90,48.83 C285.66,48.74 287.43,48.65 289.19,48.56 C290.95,48.47 292.71,48.37 294.48,48.28 C296.24,48.18 298.00,48.09 299.76,47.99 C301.53,47.89 303.29,47.79 305.05,47.69 C306.81,47.59 308.57,47.48 310.34,47.38 C312.10,47.27 313.86,47.16 315.62,47.05 C317.39,46.93 319.15,46.82 320.91,46.70 C322.68,46.57 324.44,46.41 326.20,46.31 C327.96,46.20 329.72,46.15 331.49,46.06 C333.25,45.97 335.01,45.89 336.77,45.76 C338.54,45.63 340.30,45.50 342.06,45.31 C343.82,45.12 345.59,44.91 347.35,44.64 C349.11,44.37 350.88,44.07 352.64,43.70 C354.40,43.33 356.16,42.89 357.92,42.43 C359.69,41.97 361.35,41.23 363.21,40.93 C365.07,40.62 367.89,40.25 369.10,40.60 C370.31,40.95 370.10,40.53 370.50,43.00 C370.90,45.47 371.50,51.21 371.50,55.42 C371.50,59.63 371.87,63.99 370.50,68.27 C369.13,72.55 365.35,77.27 363.27,81.12 C361.20,84.98 358.92,89.69 358.05,91.40" stroke="#7070c8" stroke-width="0.75" stroke-opacity="0.95" fill="none"/><path d="M175.89,89.20 C174.50,86.77 170.09,79.09 167.51,74.61 C164.93,70.13 161.49,65.79 160.40,62.32 C159.31,58.85 160.67,55.62 161.00,53.80 C161.33,51.98 161.22,51.78 162.40,51.40 C163.58,51.02 166.30,51.28 168.10,51.50 C169.90,51.71 171.50,52.32 173.20,52.69 C174.90,53.07 176.60,53.44 178.30,53.76 C180.00,54.09 181.70,54.39 183.40,54.66 C185.10,54.93 186.80,55.17 188.50,55.38 C190.20,55.60 191.90,55.77 193.60,55.93 C195.30,56.08 197.00,56.21 198.70,56.33 C200.40,56.45 202.10,56.56 203.80,56.64 C205.50,56.72 207.20,56.78 208.90,56.80 C210.60,56.81 212.30,56.78 214.00,56.76 C215.70,56.74 217.40,56.71 219.10,56.68 C220.80,56.65 222.50,56.61 224.20,56.57 C225.90,56.53 227.60,56.49 229.30,56.45 C231.00,56.40 232.70,56.35 234.40,56.30 C236.10,56.25 237.80,56.20 239.50,56.14 C241.20,56.09 242.90,56.03 244.60,55.97 C246.30,55.91 248.00,55.85 249.70,55.78 C251.40,55.72 253.10,55.65 254.80,55.58 C256.50,55.51 258.20,55.44 259.90,55.37 C261.60,55.30 263.30,55.22 265.00,55.14 C266.70,55.06 268.40,54.98 270.10,54.90 C271.80,54.82 273.50,54.73 275.20,54.65 C276.90,54.56 278.60,54.47 280.30,54.38 C282.00,54.29 283.70,54.20 285.40,54.10 C287.10,54.01 288.80,53.91 290.50,53.81 C292.20,53.71 293.90,53.61 295.60,53.50 C297.30,53.40 299.00,53.29 300.70,53.18 C302.40,53.07 304.10,52.96 305.80,52.85 C307.50,52.73 309.20,52.61 310.90,52.49 C312.60,52.37 314.30,52.25 316.00,52.12 C317.70,51.99 319.40,51.86 321.10,51.72 C322.80,51.58 324.50,51.41 326.20,51.29 C327.90,51.16 329.60,51.10 331.30,50.99 C333.00,50.88 334.70,50.78 336.40,50.64 C338.10,50.50 339.80,50.34 341.50,50.14 C343.20,49.94 344.90,49.72 346.60,49.44 C348.30,49.16 350.00,48.85 351.70,48.48 C353.40,48.11 355.10,47.68 356.80,47.21 C358.50,46.73 360.10,45.96 361.90,45.62 C363.70,45.29 366.42,44.87 367.60,45.20 C368.78,45.53 368.60,45.47 369.00,47.60 C369.40,49.73 370.00,54.39 370.00,57.98 C370.00,61.57 370.23,65.41 369.00,69.13 C367.77,72.85 364.40,76.94 362.60,80.28 C360.80,83.62 358.93,87.71 358.19,89.20" stroke="#7070c8" stroke-width="0.75" stroke-opacity="0.95" fill="none"/><path d="M175.60,87.00 C174.67,84.95 171.88,78.47 170.01,74.69 C168.14,70.91 165.24,67.17 164.40,64.32 C163.56,61.47 164.67,59.12 165.00,57.60 C165.33,56.08 165.24,55.58 166.40,55.20 C167.56,54.82 170.21,55.10 171.96,55.30 C173.71,55.50 175.27,56.07 176.92,56.42 C178.57,56.78 180.23,57.11 181.88,57.43 C183.53,57.75 185.19,58.07 186.84,58.33 C188.49,58.60 190.15,58.82 191.80,59.03 C193.45,59.23 195.11,59.40 196.76,59.56 C198.41,59.72 200.07,59.85 201.72,59.97 C203.37,60.09 205.03,60.22 206.68,60.29 C208.33,60.36 209.99,60.37 211.64,60.39 C213.29,60.41 214.95,60.42 216.60,60.42 C218.25,60.43 219.91,60.43 221.56,60.43 C223.21,60.42 224.87,60.42 226.52,60.40 C228.17,60.39 229.83,60.38 231.48,60.36 C233.13,60.34 234.79,60.31 236.44,60.29 C238.09,60.26 239.75,60.23 241.40,60.20 C243.05,60.17 244.71,60.13 246.36,60.09 C248.01,60.05 249.67,60.01 251.32,59.97 C252.97,59.92 254.63,59.87 256.28,59.82 C257.93,59.77 259.59,59.72 261.24,59.66 C262.89,59.60 264.55,59.54 266.20,59.48 C267.85,59.42 269.51,59.35 271.16,59.28 C272.81,59.21 274.47,59.14 276.12,59.06 C277.77,58.99 279.43,58.91 281.08,58.83 C282.73,58.74 284.39,58.66 286.04,58.57 C287.69,58.48 289.35,58.39 291.00,58.30 C292.65,58.20 294.31,58.11 295.96,58.00 C297.61,57.90 299.27,57.80 300.92,57.69 C302.57,57.59 304.23,57.48 305.88,57.36 C307.53,57.25 309.19,57.13 310.84,57.01 C312.49,56.89 314.15,56.77 315.80,56.64 C317.45,56.51 319.11,56.38 320.76,56.24 C322.41,56.10 324.07,55.93 325.72,55.80 C327.37,55.67 329.03,55.58 330.68,55.45 C332.33,55.33 333.99,55.22 335.64,55.08 C337.29,54.93 338.95,54.78 340.60,54.58 C342.25,54.38 343.91,54.17 345.56,53.90 C347.21,53.62 348.87,53.30 350.52,52.96 C352.17,52.61 353.83,52.26 355.48,51.81 C357.13,51.36 358.69,50.60 360.44,50.26 C362.19,49.93 364.84,49.48 366.00,49.80 C367.16,50.12 367.00,50.41 367.40,52.20 C367.80,53.99 368.40,57.57 368.40,60.54 C368.40,63.51 368.49,66.84 367.40,69.99 C366.31,73.14 363.38,76.61 361.87,79.44 C360.36,82.27 358.92,85.74 358.33,87.00" stroke="#7070c8" stroke-width="0.75" stroke-opacity="0.95" fill="none"/><path d="M175.30,84.80 C174.73,83.10 173.17,77.74 171.86,74.62 C170.54,71.49 168.04,68.31 167.40,66.04 C166.76,63.77 167.67,62.24 168.00,61.00 C168.33,59.76 168.26,58.98 169.40,58.60 C170.54,58.22 173.12,58.53 174.84,58.74 C176.55,58.94 178.06,59.46 179.68,59.82 C181.29,60.18 182.90,60.57 184.51,60.90 C186.12,61.23 187.74,61.52 189.35,61.78 C190.96,62.04 192.57,62.26 194.19,62.46 C195.80,62.66 197.41,62.83 199.03,62.99 C200.64,63.15 202.25,63.29 203.86,63.41 C205.48,63.53 207.09,63.63 208.70,63.70 C210.31,63.77 211.92,63.80 213.54,63.84 C215.15,63.88 216.76,63.91 218.38,63.94 C219.99,63.97 221.60,63.99 223.21,64.01 C224.83,64.03 226.44,64.04 228.05,64.05 C229.66,64.06 231.27,64.06 232.89,64.06 C234.50,64.07 236.11,64.06 237.72,64.06 C239.34,64.05 240.95,64.04 242.56,64.02 C244.18,64.01 245.79,63.99 247.40,63.97 C249.01,63.94 250.62,63.92 252.24,63.89 C253.85,63.86 255.46,63.82 257.07,63.78 C258.69,63.74 260.30,63.70 261.91,63.66 C263.53,63.61 265.14,63.56 266.75,63.51 C268.36,63.45 269.97,63.39 271.59,63.33 C273.20,63.27 274.81,63.21 276.43,63.14 C278.04,63.07 279.65,62.99 281.26,62.92 C282.88,62.84 284.49,62.76 286.10,62.67 C287.71,62.59 289.32,62.50 290.94,62.41 C292.55,62.31 294.16,62.22 295.77,62.12 C297.39,62.02 299.00,61.91 300.61,61.80 C302.23,61.69 303.84,61.58 305.45,61.47 C307.06,61.35 308.68,61.23 310.29,61.10 C311.90,60.98 313.51,60.85 315.12,60.72 C316.74,60.58 318.35,60.45 319.96,60.30 C321.57,60.16 323.19,60.00 324.80,59.86 C326.41,59.71 328.02,59.58 329.64,59.45 C331.25,59.32 332.86,59.20 334.48,59.05 C336.09,58.91 337.70,58.75 339.31,58.56 C340.93,58.37 342.54,58.17 344.15,57.91 C345.76,57.65 347.38,57.34 348.99,57.02 C350.60,56.70 352.21,56.40 353.82,56.00 C355.44,55.59 356.95,54.89 358.66,54.57 C360.38,54.26 362.96,53.78 364.10,54.10 C365.24,54.42 365.10,55.03 365.50,56.50 C365.90,57.97 366.50,60.52 366.50,62.89 C366.50,65.26 366.42,68.11 365.50,70.72 C364.58,73.32 362.15,76.19 360.98,78.54 C359.81,80.89 358.88,83.76 358.46,84.80" stroke="#7070c8" stroke-width="0.75" stroke-opacity="0.95" fill="none"/><path d="M175.00,82.60 C174.72,81.24 174.22,76.96 173.37,74.47 C172.52,71.97 170.38,69.33 169.90,67.62 C169.42,65.91 170.17,65.17 170.50,64.20 C170.83,63.23 170.78,62.17 171.90,61.80 C173.02,61.43 175.55,61.76 177.22,61.98 C178.90,62.20 180.38,62.75 181.95,63.12 C183.52,63.49 185.10,63.88 186.68,64.21 C188.25,64.53 189.83,64.80 191.40,65.05 C192.97,65.30 194.55,65.51 196.12,65.70 C197.70,65.90 199.28,66.06 200.85,66.22 C202.42,66.38 204.00,66.53 205.57,66.64 C207.15,66.76 208.73,66.84 210.30,66.92 C211.88,67.00 213.45,67.06 215.03,67.12 C216.60,67.18 218.18,67.23 219.75,67.28 C221.32,67.33 222.90,67.37 224.47,67.41 C226.05,67.45 227.62,67.48 229.20,67.51 C230.77,67.54 232.35,67.56 233.93,67.58 C235.50,67.60 237.07,67.61 238.65,67.62 C240.22,67.63 241.80,67.64 243.38,67.64 C244.95,67.64 246.53,67.63 248.10,67.63 C249.68,67.62 251.25,67.60 252.82,67.59 C254.40,67.57 255.98,67.54 257.55,67.52 C259.12,67.49 260.70,67.46 262.27,67.42 C263.85,67.38 265.43,67.34 267.00,67.30 C268.57,67.25 270.15,67.20 271.73,67.15 C273.30,67.09 274.88,67.03 276.45,66.97 C278.02,66.90 279.60,66.83 281.18,66.76 C282.75,66.69 284.32,66.61 285.90,66.52 C287.47,66.44 289.05,66.35 290.62,66.26 C292.20,66.17 293.78,66.07 295.35,65.97 C296.93,65.87 298.50,65.76 300.07,65.65 C301.65,65.54 303.22,65.43 304.80,65.31 C306.37,65.18 307.95,65.06 309.52,64.93 C311.10,64.80 312.68,64.67 314.25,64.53 C315.82,64.39 317.40,64.24 318.98,64.10 C320.55,63.95 322.13,63.79 323.70,63.63 C325.28,63.48 326.85,63.32 328.42,63.17 C330.00,63.02 331.57,62.90 333.15,62.74 C334.72,62.59 336.30,62.43 337.88,62.25 C339.45,62.06 341.03,61.87 342.60,61.63 C344.18,61.39 345.75,61.11 347.33,60.81 C348.90,60.51 350.47,60.21 352.05,59.84 C353.62,59.47 355.10,58.87 356.77,58.58 C358.45,58.29 360.98,57.78 362.10,58.10 C363.22,58.42 363.10,59.34 363.50,60.50 C363.90,61.66 364.50,63.23 364.50,65.03 C364.50,66.83 364.24,69.21 363.50,71.30 C362.76,73.40 360.86,75.70 360.04,77.58 C359.22,79.46 358.82,81.76 358.58,82.60" stroke="#7070c8" stroke-width="0.75" stroke-opacity="0.95" fill="none"/><path d="M174.68,80.40 C174.70,79.37 175.17,76.13 174.76,74.24 C174.35,72.35 172.53,70.23 172.20,69.06 C171.87,67.89 172.47,67.91 172.80,67.20 C173.13,66.49 173.10,65.15 174.20,64.80 C175.30,64.45 177.78,64.83 179.42,65.10 C181.06,65.37 182.50,66.01 184.04,66.42 C185.57,66.82 187.11,67.19 188.65,67.51 C190.19,67.82 191.73,68.08 193.27,68.31 C194.81,68.55 196.35,68.74 197.89,68.93 C199.43,69.12 200.97,69.28 202.50,69.44 C204.04,69.60 205.58,69.76 207.12,69.88 C208.66,70.00 210.20,70.07 211.74,70.16 C213.28,70.25 214.82,70.33 216.36,70.41 C217.90,70.49 219.44,70.56 220.98,70.62 C222.51,70.69 224.05,70.75 225.59,70.81 C227.13,70.86 228.67,70.91 230.21,70.95 C231.75,71.00 233.29,71.04 234.83,71.07 C236.37,71.10 237.91,71.13 239.44,71.15 C240.98,71.18 242.52,71.20 244.06,71.21 C245.60,71.22 247.14,71.23 248.68,71.23 C250.22,71.23 251.76,71.23 253.30,71.22 C254.84,71.21 256.38,71.19 257.92,71.17 C259.45,71.15 260.99,71.13 262.53,71.10 C264.07,71.07 265.61,71.03 267.15,70.99 C268.69,70.95 270.23,70.91 271.77,70.85 C273.31,70.80 274.85,70.75 276.38,70.68 C277.92,70.62 279.46,70.55 281.00,70.48 C282.54,70.41 284.08,70.33 285.62,70.25 C287.16,70.16 288.70,70.08 290.24,69.98 C291.78,69.89 293.32,69.79 294.86,69.68 C296.39,69.58 297.93,69.47 299.47,69.35 C301.01,69.24 302.55,69.12 304.09,68.99 C305.63,68.87 307.17,68.74 308.71,68.60 C310.25,68.46 311.79,68.32 313.32,68.17 C314.86,68.03 316.40,67.87 317.94,67.71 C319.48,67.56 321.02,67.39 322.56,67.22 C324.10,67.05 325.64,66.86 327.18,66.70 C328.72,66.53 330.26,66.39 331.79,66.23 C333.33,66.06 334.87,65.89 336.41,65.70 C337.95,65.50 339.49,65.31 341.03,65.07 C342.57,64.83 344.11,64.58 345.65,64.29 C347.19,63.99 348.73,63.63 350.26,63.31 C351.80,62.99 353.24,62.57 354.88,62.37 C356.52,62.16 359.00,61.74 360.10,62.10 C361.20,62.46 361.10,63.66 361.50,64.50 C361.90,65.34 362.50,65.94 362.50,67.17 C362.50,68.40 362.07,70.32 361.50,71.90 C360.93,73.47 359.56,75.20 359.09,76.62 C358.63,78.04 358.76,79.77 358.69,80.40" stroke="#7070c8" stroke-width="0.75" stroke-opacity="0.95" fill="none"/><path d="M174.36,78.20 C174.63,77.49 175.97,75.25 175.95,73.94 C175.92,72.64 174.39,71.02 174.20,70.36 C174.01,69.70 174.47,70.46 174.80,70.00 C175.13,69.54 175.11,67.97 176.20,67.60 C177.29,67.23 179.71,67.55 181.32,67.81 C182.92,68.06 184.33,68.72 185.84,69.13 C187.34,69.54 188.85,69.94 190.35,70.27 C191.86,70.61 193.36,70.89 194.87,71.15 C196.38,71.41 197.88,71.62 199.39,71.83 C200.89,72.04 202.40,72.22 203.91,72.40 C205.41,72.57 206.92,72.73 208.42,72.86 C209.93,73.00 211.43,73.11 212.94,73.22 C214.45,73.33 215.95,73.44 217.46,73.53 C218.96,73.63 220.47,73.72 221.98,73.81 C223.48,73.90 224.99,73.98 226.49,74.05 C228.00,74.12 229.50,74.19 231.01,74.25 C232.52,74.31 234.02,74.37 235.53,74.42 C237.03,74.47 238.54,74.51 240.05,74.55 C241.55,74.59 243.06,74.62 244.56,74.65 C246.07,74.67 247.57,74.69 249.08,74.71 C250.59,74.72 252.09,74.73 253.60,74.73 C255.10,74.73 256.61,74.73 258.12,74.72 C259.62,74.71 261.13,74.70 262.63,74.68 C264.14,74.65 265.64,74.63 267.15,74.59 C268.66,74.56 270.16,74.52 271.67,74.48 C273.17,74.43 274.68,74.38 276.19,74.32 C277.69,74.27 279.20,74.20 280.70,74.13 C282.21,74.06 283.71,73.99 285.22,73.91 C286.73,73.83 288.23,73.74 289.74,73.65 C291.24,73.56 292.75,73.46 294.25,73.35 C295.76,73.25 297.27,73.14 298.77,73.02 C300.28,72.91 301.78,72.78 303.29,72.66 C304.80,72.53 306.30,72.39 307.81,72.25 C309.31,72.11 310.82,71.97 312.32,71.82 C313.83,71.66 315.34,71.50 316.84,71.34 C318.35,71.18 319.85,71.00 321.36,70.83 C322.87,70.65 324.37,70.46 325.88,70.27 C327.38,70.09 328.89,69.92 330.39,69.73 C331.90,69.54 333.41,69.35 334.91,69.14 C336.42,68.93 337.92,68.71 339.43,68.46 C340.94,68.21 342.44,67.94 343.95,67.64 C345.45,67.34 346.96,66.97 348.47,66.67 C349.97,66.36 351.38,65.97 352.98,65.82 C354.59,65.68 357.01,65.40 358.10,65.80 C359.19,66.20 359.10,67.65 359.50,68.20 C359.90,68.75 360.50,68.41 360.50,69.10 C360.50,69.79 359.89,71.27 359.50,72.35 C359.11,73.43 358.26,74.63 358.14,75.60 C358.03,76.58 358.68,77.77 358.79,78.20" stroke="#7070c8" stroke-width="0.75" stroke-opacity="0.95" fill="none"/><path d="M174.04,76.00 C174.53,75.61 176.68,74.37 177.00,73.64 C177.33,72.92 176.07,71.80 176.00,71.66 C175.93,71.52 176.27,73.01 176.60,72.80 C176.93,72.59 176.93,70.77 178.00,70.40 C179.07,70.03 181.46,70.31 183.03,70.56 C184.61,70.81 185.99,71.47 187.47,71.89 C188.95,72.30 190.43,72.72 191.91,73.07 C193.38,73.43 194.86,73.73 196.34,74.01 C197.82,74.29 199.30,74.53 200.78,74.76 C202.25,74.99 203.73,75.19 205.21,75.38 C206.69,75.57 208.17,75.73 209.64,75.89 C211.12,76.04 212.60,76.18 214.08,76.31 C215.56,76.45 217.04,76.57 218.51,76.69 C219.99,76.81 221.47,76.92 222.95,77.02 C224.43,77.13 225.91,77.23 227.38,77.32 C228.86,77.41 230.34,77.49 231.82,77.57 C233.30,77.65 234.78,77.72 236.25,77.79 C237.73,77.85 239.21,77.91 240.69,77.96 C242.17,78.01 243.65,78.06 245.12,78.10 C246.60,78.14 248.08,78.17 249.56,78.19 C251.04,78.22 252.52,78.24 254.00,78.25 C255.47,78.27 256.95,78.27 258.43,78.27 C259.91,78.27 261.39,78.26 262.87,78.25 C264.34,78.24 265.82,78.22 267.30,78.19 C268.78,78.16 270.26,78.13 271.74,78.09 C273.21,78.05 274.69,78.01 276.17,77.95 C277.65,77.90 279.13,77.84 280.61,77.78 C282.08,77.71 283.56,77.64 285.04,77.56 C286.52,77.48 288.00,77.40 289.48,77.30 C290.95,77.21 292.43,77.11 293.91,77.01 C295.39,76.90 296.87,76.79 298.35,76.67 C299.82,76.56 301.30,76.43 302.78,76.30 C304.26,76.17 305.74,76.03 307.22,75.89 C308.69,75.74 310.17,75.59 311.65,75.43 C313.13,75.28 314.61,75.11 316.09,74.94 C317.56,74.77 319.04,74.59 320.52,74.41 C322.00,74.22 323.48,74.02 324.95,73.83 C326.43,73.63 327.91,73.43 329.39,73.22 C330.87,73.02 332.35,72.81 333.82,72.58 C335.30,72.35 336.78,72.11 338.26,71.84 C339.74,71.58 341.22,71.29 342.70,70.98 C344.17,70.68 345.65,70.31 347.13,70.02 C348.61,69.73 349.99,69.33 351.56,69.23 C353.14,69.12 355.53,68.97 356.60,69.40 C357.67,69.83 357.60,71.54 358.00,71.80 C358.40,72.06 359.00,70.80 359.00,70.96 C359.00,71.12 358.26,72.16 358.00,72.76 C357.74,73.36 357.29,74.02 357.44,74.56 C357.58,75.10 358.64,75.76 358.88,76.00" stroke="#7070c8" stroke-width="0.75" stroke-opacity="0.95" fill="none"/><path d="M173.71,73.80 C174.42,73.72 177.33,73.46 177.99,73.31 C178.66,73.15 177.65,72.52 177.70,72.89 C177.75,73.26 177.97,75.47 178.30,75.50 C178.63,75.53 178.64,73.47 179.70,73.10 C180.76,72.73 183.10,73.01 184.66,73.26 C186.21,73.52 187.56,74.19 189.01,74.63 C190.46,75.07 191.91,75.51 193.37,75.89 C194.82,76.27 196.27,76.60 197.72,76.90 C199.17,77.20 200.62,77.46 202.08,77.71 C203.53,77.96 204.98,78.18 206.43,78.39 C207.88,78.59 209.33,78.77 210.78,78.95 C212.24,79.12 213.69,79.28 215.14,79.43 C216.59,79.59 218.04,79.73 219.50,79.87 C220.95,80.01 222.40,80.14 223.85,80.26 C225.30,80.38 226.75,80.50 228.21,80.60 C229.66,80.71 231.11,80.81 232.56,80.91 C234.01,81.00 235.46,81.09 236.92,81.17 C238.37,81.25 239.82,81.32 241.27,81.38 C242.72,81.45 244.17,81.51 245.62,81.56 C247.08,81.61 248.53,81.65 249.98,81.69 C251.43,81.73 252.88,81.76 254.34,81.78 C255.79,81.80 257.24,81.82 258.69,81.82 C260.14,81.83 261.59,81.83 263.05,81.83 C264.50,81.82 265.95,81.81 267.40,81.79 C268.85,81.77 270.30,81.74 271.75,81.71 C273.21,81.68 274.66,81.63 276.11,81.59 C277.56,81.54 279.01,81.48 280.47,81.42 C281.92,81.36 283.37,81.29 284.82,81.21 C286.27,81.13 287.72,81.05 289.18,80.96 C290.63,80.87 292.08,80.77 293.53,80.67 C294.98,80.56 296.43,80.45 297.88,80.33 C299.34,80.21 300.79,80.08 302.24,79.95 C303.69,79.82 305.14,79.68 306.60,79.53 C308.05,79.38 309.50,79.23 310.95,79.07 C312.40,78.90 313.85,78.73 315.31,78.56 C316.76,78.38 318.21,78.20 319.66,78.00 C321.11,77.81 322.56,77.61 324.01,77.40 C325.47,77.19 326.92,76.97 328.37,76.75 C329.82,76.53 331.27,76.30 332.73,76.05 C334.18,75.81 335.63,75.54 337.08,75.26 C338.53,74.98 339.98,74.68 341.44,74.37 C342.89,74.06 344.34,73.70 345.79,73.41 C347.24,73.12 348.59,72.71 350.14,72.64 C351.70,72.57 354.04,72.54 355.10,73.00 C356.16,73.46 356.10,75.43 356.50,75.40 C356.90,75.37 357.50,73.19 357.50,72.82 C357.50,72.45 356.63,73.05 356.50,73.17 C356.37,73.29 356.32,73.41 356.73,73.52 C357.14,73.62 358.58,73.75 358.95,73.80" stroke="#7070c8" stroke-width="0.75" stroke-opacity="0.95" fill="none"/><path d="M173.37,71.60 C174.30,71.83 177.97,72.55 178.98,72.97 C179.98,73.39 179.23,73.25 179.40,74.12 C179.57,74.99 179.67,77.92 180.00,78.20 C180.33,78.48 180.35,76.17 181.40,75.80 C182.45,75.43 184.75,75.71 186.28,75.98 C187.80,76.24 189.12,76.94 190.55,77.40 C191.98,77.86 193.40,78.34 194.82,78.74 C196.25,79.14 197.67,79.50 199.10,79.82 C200.53,80.15 201.95,80.43 203.38,80.70 C204.80,80.96 206.22,81.20 207.65,81.43 C209.08,81.65 210.50,81.85 211.93,82.05 C213.35,82.25 214.77,82.43 216.20,82.60 C217.62,82.78 219.05,82.94 220.47,83.10 C221.90,83.26 223.32,83.41 224.75,83.55 C226.18,83.69 227.60,83.82 229.03,83.95 C230.45,84.08 231.88,84.19 233.30,84.30 C234.73,84.41 236.15,84.52 237.57,84.61 C239.00,84.71 240.42,84.79 241.85,84.87 C243.28,84.95 244.70,85.03 246.12,85.09 C247.55,85.16 248.97,85.21 250.40,85.26 C251.83,85.31 253.25,85.35 254.68,85.39 C256.10,85.42 257.52,85.45 258.95,85.47 C260.38,85.49 261.80,85.50 263.23,85.50 C264.65,85.51 266.07,85.50 267.50,85.49 C268.93,85.48 270.35,85.46 271.77,85.43 C273.20,85.41 274.62,85.37 276.05,85.33 C277.48,85.29 278.90,85.24 280.32,85.19 C281.75,85.13 283.18,85.06 284.60,84.99 C286.03,84.92 287.45,84.84 288.88,84.75 C290.30,84.67 291.72,84.57 293.15,84.47 C294.57,84.37 296.00,84.26 297.43,84.14 C298.85,84.02 300.27,83.90 301.70,83.76 C303.12,83.63 304.55,83.49 305.98,83.34 C307.40,83.19 308.82,83.04 310.25,82.88 C311.68,82.71 313.10,82.54 314.52,82.36 C315.95,82.18 317.38,81.99 318.80,81.80 C320.23,81.60 321.65,81.40 323.07,81.18 C324.50,80.96 325.93,80.74 327.35,80.50 C328.78,80.26 330.20,80.02 331.62,79.75 C333.05,79.49 334.47,79.21 335.90,78.91 C337.32,78.61 338.75,78.28 340.18,77.96 C341.60,77.63 343.02,77.26 344.45,76.97 C345.88,76.67 347.20,76.25 348.73,76.19 C350.25,76.13 352.55,76.13 353.60,76.60 C354.65,77.07 354.60,79.32 355.00,79.00 C355.40,78.68 356.00,75.58 356.00,74.68 C356.00,73.78 355.00,73.95 355.00,73.58 C355.00,73.21 355.34,72.81 356.01,72.48 C356.68,72.15 358.52,71.75 359.02,71.60" stroke="#7070c8" stroke-width="0.75" stroke-opacity="0.95" fill="none"/><path d="M181.84,73.50 C182.78,73.50 185.59,73.43 187.47,73.50 C189.35,73.57 191.22,73.69 193.10,73.95 C194.98,74.20 196.85,74.65 198.73,75.04 C200.61,75.42 202.49,75.86 204.36,76.27 C206.24,76.68 208.12,77.10 209.99,77.50 C211.87,77.90 213.75,78.29 215.63,78.66 C217.50,79.03 219.38,79.38 221.26,79.70 C223.14,80.03 225.01,80.34 226.89,80.62 C228.77,80.90 230.64,81.17 232.52,81.41 C234.40,81.65 236.28,81.86 238.15,82.06 C240.03,82.26 241.91,82.43 243.79,82.59 C245.66,82.74 247.54,82.88 249.42,82.99 C251.29,83.10 253.17,83.20 255.05,83.27 C256.93,83.34 258.80,83.39 260.68,83.43 C262.56,83.46 264.43,83.47 266.31,83.46 C268.19,83.46 270.07,83.43 271.94,83.38 C273.82,83.34 275.70,83.27 277.58,83.19 C279.45,83.10 281.33,83.00 283.21,82.87 C285.08,82.74 286.96,82.60 288.84,82.43 C290.72,82.27 292.59,82.08 294.47,81.88 C296.35,81.67 298.22,81.44 300.10,81.19 C301.98,80.94 303.86,80.68 305.73,80.38 C307.61,80.09 309.49,79.78 311.37,79.45 C313.24,79.11 315.12,78.76 317.00,78.38 C318.87,78.01 320.75,77.61 322.63,77.20 C324.51,76.80 326.38,76.36 328.26,75.94 C330.14,75.52 332.01,75.07 333.89,74.68 C335.77,74.29 337.65,73.77 339.52,73.58 C341.40,73.38 343.28,73.51 345.16,73.50 C347.03,73.49 349.85,73.50 350.79,73.50" stroke="#7880d8" stroke-width="0.60" stroke-opacity="0.65" fill="none"/><path d="M182.96,75.50 C183.89,75.53 186.67,75.51 188.52,75.66 C190.38,75.81 192.23,76.07 194.09,76.40 C195.94,76.73 197.80,77.22 199.65,77.66 C201.51,78.10 203.36,78.58 205.22,79.03 C207.07,79.49 208.93,79.95 210.78,80.38 C212.64,80.81 214.49,81.24 216.35,81.63 C218.20,82.03 220.06,82.41 221.91,82.76 C223.77,83.11 225.62,83.44 227.48,83.74 C229.33,84.04 231.19,84.32 233.04,84.58 C234.90,84.83 236.75,85.06 238.61,85.27 C240.46,85.48 242.31,85.67 244.17,85.83 C246.02,86.00 247.88,86.14 249.73,86.26 C251.59,86.38 253.44,86.48 255.30,86.55 C257.15,86.63 259.01,86.68 260.86,86.72 C262.72,86.75 264.57,86.76 266.43,86.76 C268.28,86.75 270.14,86.72 271.99,86.67 C273.85,86.62 275.70,86.55 277.56,86.46 C279.41,86.37 281.27,86.25 283.12,86.12 C284.98,85.99 286.83,85.83 288.69,85.66 C290.54,85.48 292.40,85.28 294.25,85.06 C296.11,84.84 297.96,84.60 299.82,84.33 C301.67,84.07 303.53,83.78 305.38,83.47 C307.24,83.16 309.09,82.82 310.95,82.46 C312.80,82.11 314.66,81.72 316.51,81.32 C318.37,80.92 320.22,80.49 322.08,80.05 C323.93,79.61 325.79,79.14 327.64,78.68 C329.50,78.22 331.35,77.72 333.21,77.28 C335.06,76.84 336.92,76.28 338.77,76.01 C340.62,75.75 342.48,75.77 344.33,75.69 C346.19,75.60 348.97,75.53 349.90,75.50" stroke="#7880d8" stroke-width="0.60" stroke-opacity="0.60" fill="none"/><path d="M184.07,77.50 C184.99,77.55 187.74,77.60 189.57,77.82 C191.40,78.05 193.24,78.46 195.07,78.87 C196.90,79.28 198.73,79.81 200.57,80.30 C202.40,80.78 204.23,81.31 206.06,81.81 C207.90,82.30 209.73,82.80 211.56,83.27 C213.39,83.74 215.23,84.19 217.06,84.62 C218.89,85.04 220.73,85.44 222.56,85.82 C224.39,86.19 226.22,86.54 228.06,86.86 C229.89,87.18 231.72,87.48 233.55,87.75 C235.39,88.02 237.22,88.27 239.05,88.49 C240.88,88.71 242.72,88.91 244.55,89.08 C246.38,89.25 248.21,89.40 250.05,89.53 C251.88,89.65 253.71,89.75 255.54,89.84 C257.38,89.92 259.21,89.97 261.04,90.01 C262.87,90.04 264.71,90.06 266.54,90.05 C268.37,90.04 270.20,90.01 272.04,89.95 C273.87,89.90 275.70,89.83 277.53,89.73 C279.37,89.63 281.20,89.51 283.03,89.37 C284.86,89.23 286.70,89.06 288.53,88.88 C290.36,88.69 292.19,88.48 294.03,88.25 C295.86,88.01 297.69,87.76 299.52,87.48 C301.36,87.19 303.19,86.89 305.02,86.56 C306.85,86.23 308.69,85.87 310.52,85.49 C312.35,85.11 314.19,84.70 316.02,84.27 C317.85,83.84 319.68,83.38 321.52,82.90 C323.35,82.43 325.18,81.92 327.01,81.42 C328.85,80.92 330.68,80.38 332.51,79.89 C334.34,79.40 336.18,78.80 338.01,78.46 C339.84,78.13 341.67,78.03 343.51,77.87 C345.34,77.71 348.09,77.56 349.00,77.50" stroke="#7880d8" stroke-width="0.60" stroke-opacity="0.55" fill="none"/><path d="M185.18,79.50 C186.09,79.59 188.80,79.74 190.62,80.05 C192.43,80.35 194.24,80.86 196.05,81.34 C197.86,81.83 199.67,82.40 201.48,82.94 C203.29,83.48 205.10,84.05 206.91,84.59 C208.72,85.13 210.53,85.66 212.34,86.17 C214.15,86.67 215.96,87.15 217.77,87.61 C219.58,88.06 221.39,88.49 223.20,88.88 C225.01,89.28 226.82,89.65 228.63,89.99 C230.44,90.33 232.25,90.64 234.06,90.93 C235.87,91.22 237.68,91.47 239.49,91.71 C241.30,91.94 243.11,92.14 244.92,92.33 C246.73,92.51 248.54,92.66 250.35,92.80 C252.16,92.93 253.97,93.03 255.78,93.12 C257.59,93.20 259.40,93.26 261.21,93.30 C263.02,93.33 264.83,93.35 266.64,93.34 C268.45,93.33 270.26,93.29 272.07,93.24 C273.88,93.18 275.69,93.10 277.50,93.00 C279.31,92.90 281.12,92.77 282.93,92.62 C284.74,92.47 286.55,92.30 288.36,92.10 C290.17,91.90 291.98,91.68 293.79,91.44 C295.60,91.19 297.41,90.92 299.22,90.62 C301.03,90.32 302.85,90.00 304.66,89.65 C306.47,89.30 308.28,88.93 310.09,88.52 C311.90,88.12 313.71,87.68 315.52,87.23 C317.33,86.77 319.14,86.28 320.95,85.77 C322.76,85.26 324.57,84.72 326.38,84.18 C328.19,83.64 330.00,83.06 331.81,82.52 C333.62,81.97 335.43,81.34 337.24,80.93 C339.05,80.52 340.86,80.28 342.67,80.05 C344.48,79.81 347.19,79.59 348.10,79.50" stroke="#7880d8" stroke-width="0.60" stroke-opacity="0.50" fill="none"/><path d="M186.29,81.50 C187.18,81.64 189.87,81.93 191.65,82.32 C193.44,82.71 195.23,83.28 197.02,83.83 C198.80,84.38 200.59,85.00 202.38,85.60 C204.17,86.19 205.95,86.81 207.74,87.38 C209.53,87.96 211.32,88.54 213.11,89.07 C214.89,89.61 216.68,90.12 218.47,90.60 C220.26,91.08 222.04,91.53 223.83,91.95 C225.62,92.37 227.41,92.76 229.20,93.12 C230.98,93.48 232.77,93.81 234.56,94.11 C236.35,94.41 238.13,94.68 239.92,94.92 C241.71,95.17 243.50,95.38 245.29,95.57 C247.07,95.76 248.86,95.93 250.65,96.06 C252.44,96.20 254.22,96.31 256.01,96.40 C257.80,96.49 259.59,96.55 261.37,96.59 C263.16,96.62 264.95,96.64 266.74,96.63 C268.53,96.61 270.31,96.58 272.10,96.52 C273.89,96.46 275.68,96.38 277.46,96.27 C279.25,96.16 281.04,96.03 282.83,95.87 C284.62,95.71 286.40,95.53 288.19,95.33 C289.98,95.12 291.77,94.89 293.55,94.63 C295.34,94.37 297.13,94.09 298.92,93.77 C300.71,93.46 302.49,93.12 304.28,92.75 C306.07,92.38 307.86,91.99 309.64,91.56 C311.43,91.13 313.22,90.68 315.01,90.19 C316.79,89.71 318.58,89.19 320.37,88.65 C322.16,88.11 323.95,87.53 325.73,86.95 C327.52,86.37 329.31,85.74 331.10,85.15 C332.88,84.56 334.67,83.89 336.46,83.40 C338.25,82.91 340.04,82.54 341.82,82.22 C343.61,81.90 346.29,81.62 347.19,81.50" stroke="#7880d8" stroke-width="0.60" stroke-opacity="0.45" fill="none"/><path d="M187.39,83.50 C188.27,83.68 190.92,84.13 192.69,84.60 C194.45,85.07 196.22,85.71 197.98,86.32 C199.75,86.93 201.51,87.62 203.28,88.26 C205.04,88.91 206.81,89.57 208.57,90.19 C210.34,90.81 212.10,91.42 213.87,91.99 C215.63,92.56 217.40,93.10 219.16,93.61 C220.93,94.11 222.70,94.59 224.46,95.03 C226.23,95.47 227.99,95.88 229.76,96.26 C231.52,96.63 233.29,96.98 235.05,97.29 C236.82,97.61 238.58,97.89 240.35,98.14 C242.11,98.40 243.88,98.62 245.64,98.82 C247.41,99.02 249.17,99.19 250.94,99.33 C252.71,99.47 254.47,99.59 256.24,99.68 C258.00,99.77 259.77,99.83 261.53,99.87 C263.30,99.91 265.06,99.93 266.83,99.91 C268.59,99.90 270.36,99.86 272.12,99.80 C273.89,99.74 275.65,99.65 277.42,99.54 C279.18,99.43 280.95,99.29 282.71,99.12 C284.48,98.96 286.25,98.77 288.01,98.55 C289.78,98.34 291.54,98.09 293.31,97.82 C295.07,97.55 296.84,97.25 298.60,96.93 C300.37,96.60 302.13,96.24 303.90,95.86 C305.66,95.47 307.43,95.06 309.19,94.61 C310.96,94.16 312.72,93.68 314.49,93.17 C316.26,92.65 318.02,92.11 319.79,91.53 C321.55,90.96 323.32,90.35 325.08,89.73 C326.85,89.11 328.61,88.44 330.38,87.80 C332.14,87.16 333.91,86.45 335.67,85.89 C337.44,85.32 339.20,84.79 340.97,84.39 C342.73,83.99 345.38,83.65 346.27,83.50" stroke="#7880d8" stroke-width="0.60" stroke-opacity="0.40" fill="none"/><path d="M188.48,85.50 C189.35,85.73 191.97,86.33 193.71,86.88 C195.45,87.43 197.20,88.15 198.94,88.82 C200.68,89.50 202.43,90.24 204.17,90.93 C205.91,91.63 207.65,92.33 209.40,93.00 C211.14,93.66 212.88,94.30 214.63,94.90 C216.37,95.51 218.11,96.08 219.85,96.61 C221.60,97.15 223.34,97.65 225.08,98.11 C226.83,98.57 228.57,99.00 230.31,99.40 C232.05,99.79 233.80,100.15 235.54,100.48 C237.28,100.80 239.02,101.10 240.77,101.36 C242.51,101.63 244.25,101.86 246.00,102.07 C247.74,102.27 249.48,102.45 251.22,102.60 C252.97,102.75 254.71,102.87 256.45,102.96 C258.20,103.05 259.94,103.12 261.68,103.16 C263.42,103.20 265.17,103.21 266.91,103.20 C268.65,103.19 270.40,103.15 272.14,103.08 C273.88,103.02 275.62,102.92 277.37,102.81 C279.11,102.69 280.85,102.55 282.59,102.37 C284.34,102.20 286.08,102.01 287.82,101.78 C289.57,101.55 291.31,101.30 293.05,101.02 C294.79,100.74 296.54,100.43 298.28,100.09 C300.02,99.74 301.77,99.37 303.51,98.97 C305.25,98.56 306.99,98.13 308.74,97.66 C310.48,97.19 312.22,96.69 313.97,96.15 C315.71,95.61 317.45,95.04 319.19,94.43 C320.94,93.83 322.68,93.18 324.42,92.52 C326.17,91.86 327.91,91.15 329.65,90.46 C331.39,89.77 333.14,89.03 334.88,88.38 C336.62,87.73 338.36,87.04 340.11,86.56 C341.85,86.08 344.46,85.68 345.34,85.50" stroke="#7880d8" stroke-width="0.60" stroke-opacity="0.35" fill="none"/><path d="M122.30,-1.00 C122.67,1.67 123.43,9.83 124.50,15.00 C125.57,20.17 127.07,25.50 128.70,30.00 C130.33,34.50 130.75,37.83 134.30,42.00 C137.85,46.17 146.05,51.33 150.00,55.00 C153.95,58.67 153.92,59.83 158.00,64.00 C162.08,68.17 169.23,73.17 174.46,80.00 C179.69,86.83 184.30,95.83 189.36,105.00 C194.42,114.17 199.29,123.83 204.82,135.00 C210.35,146.17 219.61,165.83 222.57,172.00" stroke="#7070c8" stroke-width="0.75" stroke-opacity="0.90" fill="none"/><path d="M126.30,-1.00 C126.70,1.67 127.67,9.83 128.70,15.00 C129.72,20.17 131.00,25.50 132.45,30.00 C133.90,34.50 134.16,37.83 137.40,42.00 C140.64,46.17 148.23,51.33 151.90,55.00 C155.57,58.67 155.46,59.83 159.40,64.00 C163.34,68.17 170.42,73.17 175.56,80.00 C180.71,86.83 185.24,95.83 190.26,105.00 C195.29,114.17 200.20,123.83 205.72,135.00 C211.24,146.17 220.43,165.83 223.37,172.00" stroke="#7070c8" stroke-width="0.75" stroke-opacity="0.90" fill="none"/><path d="M130.10,-1.00 C130.53,1.67 131.72,9.83 132.70,15.00 C133.68,20.17 134.73,25.50 136.00,30.00 C137.27,34.50 137.33,37.83 140.30,42.00 C143.27,46.17 150.38,51.33 153.80,55.00 C157.22,58.67 156.99,59.83 160.80,64.00 C164.61,68.17 171.60,73.17 176.66,80.00 C181.72,86.83 186.17,95.83 191.16,105.00 C196.16,114.17 201.12,123.83 206.62,135.00 C212.12,146.17 221.24,165.83 224.17,172.00" stroke="#7070c8" stroke-width="0.75" stroke-opacity="0.90" fill="none"/><path d="M133.80,-1.00 C134.27,1.67 135.66,9.83 136.60,15.00 C137.54,20.17 138.37,25.50 139.45,30.00 C140.53,34.50 140.39,37.83 143.10,42.00 C145.81,46.17 152.52,51.33 155.70,55.00 C158.88,58.67 158.52,59.83 162.20,64.00 C165.88,68.17 172.78,73.17 177.76,80.00 C182.74,86.83 187.10,95.83 192.06,105.00 C197.02,114.17 202.04,123.83 207.52,135.00 C213.00,146.17 222.06,165.83 224.97,172.00" stroke="#7070c8" stroke-width="0.75" stroke-opacity="0.90" fill="none"/><path d="M137.90,-1.00 C138.40,1.67 140.00,9.83 140.90,15.00 C141.80,20.17 142.40,25.50 143.30,30.00 C144.20,34.50 143.92,37.83 146.30,42.00 C148.68,46.17 154.72,51.33 157.60,55.00 C160.48,58.67 160.06,59.83 163.60,64.00 C167.14,68.17 173.97,73.17 178.86,80.00 C183.76,86.83 188.04,95.83 192.96,105.00 C197.89,114.17 202.95,123.83 208.42,135.00 C213.89,146.17 222.88,165.83 225.77,172.00" stroke="#7070c8" stroke-width="0.75" stroke-opacity="0.90" fill="none"/><path d="M118.50,30.00 C119.75,31.67 123.08,36.33 126.00,40.00 C128.92,43.67 132.50,48.00 136.00,52.00 C139.50,56.00 143.50,60.00 147.00,64.00 C150.50,68.00 151.90,70.83 157.00,76.00 C162.10,81.17 174.17,91.83 177.61,95.00" stroke="#7070c8" stroke-width="0.75" stroke-opacity="1.00" fill="none"/><path d="M389.50,-1.00 C389.42,2.50 389.42,13.17 389.00,20.00 C388.58,26.83 388.08,34.17 387.00,40.00 C385.92,45.83 386.65,49.17 382.50,55.00 C378.35,60.83 367.73,67.50 362.12,75.00 C356.51,82.50 353.87,90.83 348.85,100.00 C343.82,109.17 339.19,118.00 331.98,130.00 C324.78,142.00 310.00,165.00 305.60,172.00" stroke="#7070c8" stroke-width="0.75" stroke-opacity="0.90" fill="none"/><path d="M387.00,-1.00 C386.88,2.50 386.80,13.17 386.30,20.00 C385.80,26.83 385.13,34.17 384.00,40.00 C382.87,45.83 383.35,49.17 379.50,55.00 C375.65,60.83 366.20,67.50 360.92,75.00 C355.65,82.50 352.84,90.83 347.85,100.00 C342.86,109.17 338.17,118.00 330.98,130.00 C323.79,142.00 309.08,165.00 304.70,172.00" stroke="#7070c8" stroke-width="0.75" stroke-opacity="0.90" fill="none"/><path d="M384.50,-1.00 C384.35,2.50 384.18,13.17 383.60,20.00 C383.02,26.83 382.18,34.17 381.00,40.00 C379.82,45.83 380.05,49.17 376.50,55.00 C372.95,60.83 364.66,67.50 359.72,75.00 C354.78,82.50 351.80,90.83 346.85,100.00 C341.89,109.17 337.16,118.00 329.98,130.00 C322.81,142.00 308.17,165.00 303.80,172.00" stroke="#7070c8" stroke-width="0.75" stroke-opacity="0.90" fill="none"/><path d="M382.00,-1.00 C381.82,2.50 381.57,13.17 380.90,20.00 C380.23,26.83 379.23,34.17 378.00,40.00 C376.77,45.83 376.75,49.17 373.50,55.00 C370.25,60.83 363.13,67.50 358.52,75.00 C353.91,82.50 350.77,90.83 345.85,100.00 C340.92,109.17 336.14,118.00 328.98,130.00 C321.83,142.00 307.25,165.00 302.90,172.00" stroke="#7070c8" stroke-width="0.75" stroke-opacity="0.90" fill="none"/><path d="M167.89,62.00 C169.71,65.00 175.06,73.67 178.82,80.00 C182.58,86.33 186.81,93.33 190.45,100.00 C194.10,106.67 197.37,113.33 200.70,120.00 C204.02,126.67 207.25,133.33 210.39,140.00 C213.53,146.67 217.15,154.67 219.54,160.00 C221.94,165.33 223.90,170.00 224.77,172.00" stroke="#5a62d8" stroke-width="0.70" stroke-opacity="0.85" fill="none"/><path d="M166.61,63.20 C168.36,66.00 173.37,73.87 177.13,80.00 C180.89,86.13 185.44,93.33 189.15,100.00 C192.86,106.67 196.07,113.33 199.40,120.00 C202.72,126.67 205.95,133.33 209.09,140.00 C212.23,146.67 215.85,154.67 218.24,160.00 C220.64,165.33 222.60,170.00 223.47,172.00" stroke="#5a62d8" stroke-width="0.70" stroke-opacity="0.78" fill="none"/><path d="M165.38,64.40 C167.06,67.00 171.70,74.07 175.44,80.00 C179.19,85.93 184.08,93.33 187.85,100.00 C191.63,106.67 194.77,113.33 198.10,120.00 C201.42,126.67 204.65,133.33 207.79,140.00 C210.93,146.67 214.55,154.67 216.94,160.00 C219.34,165.33 221.30,170.00 222.17,172.00" stroke="#5a62d8" stroke-width="0.70" stroke-opacity="0.71" fill="none"/><path d="M164.20,65.60 C165.79,68.00 170.03,74.27 173.75,80.00 C177.48,85.73 182.71,93.33 186.55,100.00 C190.39,106.67 193.47,113.33 196.80,120.00 C200.12,126.67 203.35,133.33 206.49,140.00 C209.63,146.67 213.25,154.67 215.64,160.00 C218.04,165.33 220.00,170.00 220.87,172.00" stroke="#5a62d8" stroke-width="0.70" stroke-opacity="0.64" fill="none"/><path d="M163.06,66.80 C164.56,69.00 168.36,74.47 172.06,80.00 C175.76,85.53 181.35,93.33 185.25,100.00 C189.16,106.67 192.17,113.33 195.50,120.00 C198.82,126.67 202.80,135.00 205.19,140.00 C207.58,145.00 209.06,148.33 209.84,150.00" stroke="#5a62d8" stroke-width="0.70" stroke-opacity="0.57" fill="none"/><path d="M161.96,68.00 C163.36,70.00 166.71,74.67 170.37,80.00 C174.04,85.33 179.98,93.33 183.95,100.00 C187.92,106.67 191.19,114.00 194.20,120.00 C197.20,126.00 200.70,133.33 202.00,136.00" stroke="#5a62d8" stroke-width="0.70" stroke-opacity="0.50" fill="none"/><path d="M160.91,69.20 C162.21,71.00 165.06,74.87 168.68,80.00 C172.31,85.13 178.62,93.33 182.65,100.00 C186.69,106.67 191.02,116.33 192.90,120.00 C194.77,123.67 193.72,121.67 193.89,122.00" stroke="#5a62d8" stroke-width="0.70" stroke-opacity="0.43" fill="none"/><path d="M159.90,70.40 C161.09,72.00 163.42,75.07 166.99,80.00 C170.57,84.93 178.26,95.33 181.35,100.00 C184.44,104.67 184.82,106.67 185.52,108.00" stroke="#5a62d8" stroke-width="0.70" stroke-opacity="0.36" fill="none"/><path d="M158.94,71.60 C160.00,73.00 162.51,76.27 165.30,80.00 C168.09,83.73 173.95,91.67 175.68,94.00" stroke="#5a62d8" stroke-width="0.70" stroke-opacity="0.29" fill="none"/><path d="M363.12,62.00 C361.69,65.00 357.67,73.67 354.51,80.00 C351.35,86.33 347.60,93.33 344.15,100.00 C340.69,106.67 337.38,113.33 333.78,120.00 C330.19,126.67 326.45,133.33 322.58,140.00 C318.70,146.67 313.81,154.67 310.53,160.00 C307.25,165.33 304.18,170.00 302.90,172.00" stroke="#5a62d8" stroke-width="0.70" stroke-opacity="0.85" fill="none"/><path d="M364.59,63.20 C363.19,66.00 359.39,73.87 356.20,80.00 C353.01,86.13 348.97,93.33 345.45,100.00 C341.93,106.67 338.68,113.33 335.08,120.00 C331.49,126.67 327.75,133.33 323.88,140.00 C320.00,146.67 315.11,154.67 311.83,160.00 C308.55,165.33 305.48,170.00 304.20,172.00" stroke="#5a62d8" stroke-width="0.70" stroke-opacity="0.78" fill="none"/><path d="M366.00,64.40 C364.65,67.00 361.10,74.07 357.89,80.00 C354.68,85.93 350.33,93.33 346.75,100.00 C343.16,106.67 339.98,113.33 336.38,120.00 C332.79,126.67 329.05,133.33 325.18,140.00 C321.30,146.67 316.41,154.67 313.13,160.00 C309.85,165.33 306.78,170.00 305.50,172.00" stroke="#5a62d8" stroke-width="0.70" stroke-opacity="0.71" fill="none"/><path d="M367.37,65.60 C366.07,68.00 362.80,74.27 359.58,80.00 C356.36,85.73 351.70,93.33 348.05,100.00 C344.40,106.67 341.28,113.33 337.68,120.00 C334.09,126.67 330.35,133.33 326.48,140.00 C322.60,146.67 317.71,154.67 314.43,160.00 C311.15,165.33 308.08,170.00 306.80,172.00" stroke="#5a62d8" stroke-width="0.70" stroke-opacity="0.64" fill="none"/><path d="M368.68,66.80 C367.45,69.00 364.49,74.47 361.27,80.00 C358.05,85.53 353.06,93.33 349.35,100.00 C345.63,106.67 342.58,113.33 338.98,120.00 C335.39,126.67 330.63,135.00 327.78,140.00 C324.92,145.00 322.85,148.33 321.86,150.00" stroke="#5a62d8" stroke-width="0.70" stroke-opacity="0.57" fill="none"/><path d="M369.95,68.00 C368.78,70.00 366.18,74.67 362.96,80.00 C359.74,85.33 354.43,93.33 350.65,100.00 C346.87,106.67 343.49,114.00 340.28,120.00 C337.07,126.00 332.87,133.33 331.39,136.00" stroke="#5a62d8" stroke-width="0.70" stroke-opacity="0.50" fill="none"/><path d="M371.16,69.20 C370.08,71.00 367.85,74.87 364.65,80.00 C361.45,85.13 355.79,93.33 351.95,100.00 C348.10,106.67 343.49,116.33 341.58,120.00 C339.67,123.67 340.68,121.67 340.50,122.00" stroke="#5a62d8" stroke-width="0.70" stroke-opacity="0.43" fill="none"/><path d="M372.33,70.40 C371.33,72.00 369.52,75.07 366.34,80.00 C363.16,84.93 356.10,95.33 353.25,100.00 C350.39,104.67 349.88,106.67 349.20,108.00" stroke="#5a62d8" stroke-width="0.70" stroke-opacity="0.36" fill="none"/><path d="M373.45,71.60 C372.54,73.00 370.49,76.27 368.03,80.00 C365.57,83.73 360.24,91.67 358.68,94.00" stroke="#5a62d8" stroke-width="0.70" stroke-opacity="0.29" fill="none"/><path d="M128,74 C125,78 124,88 127,92 C130,95 138,90 146,86 C160,100 185,135 203,169 L212,169 C195,135 176,104 166,88 C160,80 150,72 140,71 C134,70 130,71 128,74 Z" stroke="#6a6ab8" stroke-width="0.8" fill="none"/><path d="M170,101 C172,98 175,99 177,103 C186,122 198,145 209,169 L205,169 C194,146 180,124 171,106 C170,104 169,103 170,101 Z" stroke="#6a6ab8" stroke-width="0.8" fill="none"/><path d="M188,116 C190,114 192,116 193,119 C198,132 204,150 209,165 L206,165 C201,150 195,134 189,121 C188,119 187,118 188,116 Z" stroke="#6a6ab8" stroke-width="0.8" fill="none"/><path d="M353.7,95.5 C355,94.5 356.8,95.8 356.3,98 C348,120 338,145 328.5,169 L324.5,169 C333,146 343,121 351.5,99 C352.2,97.5 352.8,96.2 353.7,95.5 Z" stroke="#6a6ab8" stroke-width="0.8" fill="none"/><path d="M359,90 C355,104 346,126 336.4,148.5" stroke="#6a6ab8" stroke-width="0.8" fill="none"/><path d="M340.4,169 C343,158 346,146 349.7,138.5 C352,135.5 356,137 359,139.5 C366,145 376,155 388,169" stroke="#6a6ab8" stroke-width="0.8" fill="none"/><path d="M196,92 C196.5,87 200,83.5 206,83.5 C220,84 242,98.8 262,98.8 C284,98.8 310,86 330,82.5 C334,82 335.5,86 334.5,96" stroke="#2a2a70" stroke-width="0.85" fill="none"/>
</g>
<rect x="206.5" y="32.8" width="120.5" height="15.4" fill="url(#cb)"/>
<text x="188.6" y="18.3" class="cbt" textLength="154.4" lengthAdjust="spacingAndGlyphs">Mean of Mixture Fraction 0</text>
<text x="193.8" y="28.4" class="cbl" textLength="22" lengthAdjust="spacingAndGlyphs">0.00</text>
<text x="234.4" y="28.4" class="cbl" textLength="22" lengthAdjust="spacingAndGlyphs">0.15</text>
<text x="276.2" y="28.4" class="cbl" textLength="22" lengthAdjust="spacingAndGlyphs">0.31</text>
<text x="315.4" y="28.4" class="cbl" textLength="22" lengthAdjust="spacingAndGlyphs">0.46</text>
<path d="M169.5,82.5H355" stroke="#b01414" stroke-width="2.3" stroke-dasharray="2.3 2.3"/>
<text x="143.5" y="77.6" class="rl" textLength="26.5" lengthAdjust="spacingAndGlyphs">y = 30</text>
<path d="M169.5,97.0H355" stroke="#b01414" stroke-width="2.3" stroke-dasharray="2.3 2.3"/>
<text x="143.5" y="93.3" class="rl" textLength="26.5" lengthAdjust="spacingAndGlyphs">y = 25</text>
<path d="M169.5,112.3H355" stroke="#b01414" stroke-width="2.3" stroke-dasharray="2.3 2.3"/>
<text x="143.5" y="108.6" class="rl" textLength="26.5" lengthAdjust="spacingAndGlyphs">y = 20</text>
<path d="M169.5,126.7H355" stroke="#b01414" stroke-width="2.3" stroke-dasharray="2.3 2.3"/>
<text x="143.5" y="123.5" class="rl" textLength="26.5" lengthAdjust="spacingAndGlyphs">y = 15</text>
<path d="M169.5,142.3H355" stroke="#b01414" stroke-width="2.3" stroke-dasharray="2.3 2.3"/>
<text x="143.5" y="140.7" class="rl" textLength="26.5" lengthAdjust="spacingAndGlyphs">y = 10</text>
<path d="M133,142.5H145" stroke="#4060d0" stroke-width="1"/><path d="M144.5,142.5V131" stroke="#60c060" stroke-width="0.8"/>
<text x="135" y="139" font-family="Liberation Sans" font-style="italic" font-size="6" fill="#3050a0">z</text>
<text x="146" y="132" font-family="Liberation Sans" font-style="italic" font-size="5" fill="#60a060">y</text>
<path d="M40.50,188.80V289.40M47.27,188.80V289.40M54.03,188.80V289.40M60.80,188.80V289.40M67.57,188.80V289.40M74.33,188.80V289.40M81.10,188.80V289.40M87.87,188.80V289.40M94.63,188.80V289.40M101.40,188.80V289.40M108.17,188.80V289.40M114.93,188.80V289.40M121.70,188.80V289.40M128.47,188.80V289.40M135.23,188.80V289.40M142.00,188.80V289.40M148.77,188.80V289.40M155.53,188.80V289.40M162.30,188.80V289.40M169.07,188.80V289.40M175.83,188.80V289.40M182.60,188.80V289.40M189.37,188.80V289.40M196.13,188.80V289.40M202.90,188.80V289.40M209.67,188.80V289.40M216.43,188.80V289.40M223.20,188.80V289.40M229.97,188.80V289.40M236.73,188.80V289.40M243.50,188.80V289.40M40.50,289.40H243.50M40.50,285.38H243.50M40.50,281.35H243.50M40.50,277.33H243.50M40.50,273.30H243.50M40.50,269.28H243.50M40.50,265.26H243.50M40.50,261.23H243.50M40.50,257.21H243.50M40.50,253.18H243.50M40.50,249.16H243.50M40.50,245.14H243.50M40.50,241.11H243.50M40.50,237.09H243.50M40.50,233.06H243.50M40.50,229.04H243.50M40.50,225.02H243.50M40.50,220.99H243.50M40.50,216.97H243.50M40.50,212.94H243.50M40.50,208.92H243.50M40.50,204.90H243.50M40.50,200.87H243.50M40.50,196.85H243.50M40.50,192.82H243.50M40.50,188.80H243.50" stroke="#efefef" stroke-width="1" fill="none"/>
<path d="M40.50,289.40v-1.6M47.27,289.40v-1.6M54.03,289.40v-1.6M60.80,289.40v-1.6M67.57,289.40v-1.6M74.33,289.40v-1.6M81.10,289.40v-1.6M87.87,289.40v-1.6M94.63,289.40v-1.6M101.40,289.40v-1.6M108.17,289.40v-1.6M114.93,289.40v-1.6M121.70,289.40v-1.6M128.47,289.40v-1.6M135.23,289.40v-1.6M142.00,289.40v-1.6M148.77,289.40v-1.6M155.53,289.40v-1.6M162.30,289.40v-1.6M169.07,289.40v-1.6M175.83,289.40v-1.6M182.60,289.40v-1.6M189.37,289.40v-1.6M196.13,289.40v-1.6M202.90,289.40v-1.6M209.67,289.40v-1.6M216.43,289.40v-1.6M223.20,289.40v-1.6M229.97,289.40v-1.6M236.73,289.40v-1.6M243.50,289.40v-1.6M40.50,289.40h1.6M40.50,285.38h1.6M40.50,281.35h1.6M40.50,277.33h1.6M40.50,273.30h1.6M40.50,269.28h1.6M40.50,265.26h1.6M40.50,261.23h1.6M40.50,257.21h1.6M40.50,253.18h1.6M40.50,249.16h1.6M40.50,245.14h1.6M40.50,241.11h1.6M40.50,237.09h1.6M40.50,233.06h1.6M40.50,229.04h1.6M40.50,225.02h1.6M40.50,220.99h1.6M40.50,216.97h1.6M40.50,212.94h1.6M40.50,208.92h1.6M40.50,204.90h1.6M40.50,200.87h1.6M40.50,196.85h1.6M40.50,192.82h1.6M40.50,188.80h1.6" stroke="#555" stroke-width="0.7" fill="none"/>
<path d="M40.50,188.80V289.40H243.50" stroke="#262626" stroke-width="0.9" fill="none"/>
<clipPath id="clip-c1"><rect x="40.50" y="186.80" width="203.00" height="106.60"/></clipPath>
<g clip-path="url(#clip-c1)">
<path d="M40.50,287.79 C46.14,287.79 67.00,287.66 74.33,287.79 C81.66,287.92 81.66,288.46 84.48,288.60 C87.30,288.73 89.33,288.96 91.25,288.60 C93.17,288.23 94.63,287.92 95.99,286.38 C97.34,284.84 98.20,282.43 99.37,279.34 C100.54,276.25 101.90,271.56 103.02,267.87 C104.15,264.18 105.17,260.33 106.14,257.21 C107.11,254.09 107.83,252.01 108.84,249.16 C109.86,246.31 111.27,242.52 112.23,240.11 C113.19,237.69 113.69,237.19 114.59,234.67 C115.50,232.16 116.68,228.81 117.64,225.02 C118.60,221.23 119.44,215.96 120.35,211.94 C121.25,207.91 122.24,203.72 123.05,200.87 C123.87,198.02 124.60,196.11 125.22,194.84 C125.84,193.56 126.23,193.16 126.77,193.23 C127.32,193.29 127.90,193.29 128.47,195.24 C129.03,197.18 129.59,200.27 130.16,204.90 C130.72,209.52 131.23,216.63 131.85,223.00 C132.47,229.38 133.26,237.59 133.88,243.12 C134.50,248.66 135.01,253.35 135.57,256.20 C136.14,259.05 136.53,259.39 137.26,260.23 C138.00,261.06 138.95,261.06 139.97,261.23 C140.98,261.40 142.11,261.23 143.35,261.23 C144.59,261.23 146.29,261.50 147.41,261.23 C148.54,260.96 149.44,262.31 150.12,259.62 C150.80,256.94 151.00,251.24 151.47,245.14 C151.95,239.03 152.45,229.38 152.96,223.00 C153.47,216.63 154.01,211.27 154.52,206.91 C155.03,202.55 155.54,199.26 156.01,196.85 C156.47,194.43 156.81,192.76 157.29,192.42 C157.78,192.09 158.42,193.09 158.92,194.84 C159.41,196.58 159.76,199.70 160.27,202.88 C160.78,206.07 161.40,210.60 161.96,213.95 C162.53,217.30 163.09,220.49 163.65,223.00 C164.22,225.52 164.44,227.23 165.34,229.04 C166.25,230.85 167.77,232.26 169.07,233.87 C170.36,235.48 172.00,237.09 173.13,238.70 C174.25,240.31 175.04,241.45 175.83,243.53 C176.62,245.61 177.30,248.56 177.86,251.17 C178.43,253.79 178.73,256.60 179.22,259.22 C179.70,261.84 180.21,264.18 180.77,266.87 C181.34,269.55 181.96,272.77 182.60,275.32 C183.24,277.86 183.84,280.21 184.63,282.16 C185.42,284.10 186.38,285.78 187.34,286.99 C188.30,288.19 188.58,288.86 190.38,289.40 C192.19,289.94 194.61,290.34 198.16,290.20 C201.72,290.07 206.96,288.93 211.70,288.60 C216.43,288.26 221.28,288.26 226.58,288.19 C231.88,288.13 240.68,288.19 243.50,288.19" stroke="#000" stroke-width="1.75" stroke-dasharray="1.2 1.15" fill="none"/>
<path d="M40.50,289.40 C43.88,289.40 54.26,289.40 60.80,289.40 C67.34,289.40 75.24,289.30 79.75,289.40 C84.26,289.50 85.84,290.10 87.87,290.00 C89.90,289.90 90.69,289.57 91.93,288.80 C93.17,288.03 94.25,287.12 95.31,285.38 C96.37,283.63 97.39,281.69 98.29,278.33 C99.19,274.98 100.04,268.94 100.72,265.26 C101.41,261.57 101.79,259.39 102.41,256.20 C103.04,253.02 103.71,248.93 104.44,246.14 C105.18,243.36 105.85,241.28 106.81,239.50 C107.77,237.73 108.73,236.72 110.20,235.48 C111.66,234.24 113.69,233.06 115.61,232.06 C117.53,231.05 119.78,230.21 121.70,229.44 C123.62,228.67 125.53,227.83 127.11,227.43 C128.69,227.03 129.71,226.93 131.17,227.03 C132.64,227.13 134.50,227.77 135.91,228.03 C137.32,228.30 138.17,228.57 139.63,228.64 C141.10,228.70 143.07,228.57 144.71,228.44 C146.34,228.30 147.86,228.07 149.44,227.83 C151.02,227.60 152.80,227.16 154.18,227.03 C155.56,226.89 156.46,226.79 157.70,227.03 C158.94,227.26 160.35,227.90 161.62,228.44 C162.90,228.97 163.88,229.48 165.34,230.25 C166.81,231.02 168.81,232.09 170.42,233.06 C172.03,234.04 173.78,234.98 175.02,236.08 C176.26,237.19 177.05,238.19 177.86,239.70 C178.68,241.21 179.25,242.69 179.89,245.14 C180.54,247.58 181.16,251.21 181.72,254.39 C182.28,257.58 182.74,260.93 183.28,264.25 C183.82,267.57 184.35,271.12 184.97,274.31 C185.59,277.50 186.27,281.02 187.00,283.36 C187.73,285.71 188.18,287.15 189.37,288.39 C190.55,289.63 192.33,290.34 194.10,290.81 C195.87,291.28 197.96,291.24 199.99,291.21 C202.02,291.18 204.11,290.81 206.28,290.61 C208.46,290.41 210.23,290.20 213.05,290.00 C215.87,289.80 218.12,289.50 223.20,289.40 C228.28,289.30 240.12,289.40 243.50,289.40" stroke="#000" stroke-width="1.9" fill="none" stroke-linejoin="round"/>
<path d="M93.08,271.81h4.6v4.6h-4.6zM98.42,271.00h4.6v4.6h-4.6zM103.70,267.18h4.6v4.6h-4.6zM107.22,266.98h4.6v4.6h-4.6zM110.60,266.98h4.6v4.6h-4.6zM113.99,266.78h4.6v4.6h-4.6zM121.02,248.87h4.6v4.6h-4.6zM126.17,211.85h4.6v4.6h-4.6zM131.92,207.22h4.6v4.6h-4.6zM137.33,226.74h4.6v4.6h-4.6zM147.82,257.52h4.6v4.6h-4.6zM151.68,265.97h4.6v4.6h-4.6zM155.67,266.98h4.6v4.6h-4.6zM159.32,266.98h4.6v4.6h-4.6zM163.38,267.18h4.6v4.6h-4.6zM169.00,268.59h4.6v4.6h-4.6zM174.41,271.00h4.6v4.6h-4.6z" fill="#000"/>
</g>
<text x="35.90" y="294.50" class="tk" text-anchor="end">0</text>
<text x="35.90" y="274.38" class="tk" text-anchor="end">0.1</text>
<text x="35.90" y="254.26" class="tk" text-anchor="end">0.2</text>
<text x="35.90" y="234.14" class="tk" text-anchor="end">0.3</text>
<text x="35.90" y="214.02" class="tk" text-anchor="end">0.4</text>
<text x="35.90" y="193.90" class="tk" text-anchor="end">0.5</text>
<text x="40.50" y="308.30" class="tk" text-anchor="middle">-1.5</text>
<text x="74.33" y="308.30" class="tk" text-anchor="middle">-1</text>
<text x="108.17" y="308.30" class="tk" text-anchor="middle">-0.5</text>
<text x="142.00" y="308.30" class="tk" text-anchor="middle">0</text>
<text x="175.83" y="308.30" class="tk" text-anchor="middle">0.5</text>
<text x="209.67" y="308.30" class="tk" text-anchor="middle">1</text>
<text x="243.50" y="308.30" class="tk" text-anchor="middle">1.5</text>
<text x="142.20" y="184.00" class="ttl" text-anchor="middle" textLength="58.5" lengthAdjust="spacingAndGlyphs">y = 10 mm</text>
<g transform="translate(7.90,240.10) rotate(-90)"><text x="0" y="4.6" class="yl" text-anchor="middle">Z</text><path d="M-2.4,-6.9h5.8" stroke="#262626" stroke-width="0.9"/></g>
<path d="M307.50,188.80V289.40M314.27,188.80V289.40M321.03,188.80V289.40M327.80,188.80V289.40M334.57,188.80V289.40M341.33,188.80V289.40M348.10,188.80V289.40M354.87,188.80V289.40M361.63,188.80V289.40M368.40,188.80V289.40M375.17,188.80V289.40M381.93,188.80V289.40M388.70,188.80V289.40M395.47,188.80V289.40M402.23,188.80V289.40M409.00,188.80V289.40M415.77,188.80V289.40M422.53,188.80V289.40M429.30,188.80V289.40M436.07,188.80V289.40M442.83,188.80V289.40M449.60,188.80V289.40M456.37,188.80V289.40M463.13,188.80V289.40M469.90,188.80V289.40M476.67,188.80V289.40M483.43,188.80V289.40M490.20,188.80V289.40M496.97,188.80V289.40M503.73,188.80V289.40M510.50,188.80V289.40M307.50,289.40H510.50M307.50,285.38H510.50M307.50,281.35H510.50M307.50,277.33H510.50M307.50,273.30H510.50M307.50,269.28H510.50M307.50,265.26H510.50M307.50,261.23H510.50M307.50,257.21H510.50M307.50,253.18H510.50M307.50,249.16H510.50M307.50,245.14H510.50M307.50,241.11H510.50M307.50,237.09H510.50M307.50,233.06H510.50M307.50,229.04H510.50M307.50,225.02H510.50M307.50,220.99H510.50M307.50,216.97H510.50M307.50,212.94H510.50M307.50,208.92H510.50M307.50,204.90H510.50M307.50,200.87H510.50M307.50,196.85H510.50M307.50,192.82H510.50M307.50,188.80H510.50" stroke="#efefef" stroke-width="1" fill="none"/>
<path d="M307.50,289.40v-1.6M314.27,289.40v-1.6M321.03,289.40v-1.6M327.80,289.40v-1.6M334.57,289.40v-1.6M341.33,289.40v-1.6M348.10,289.40v-1.6M354.87,289.40v-1.6M361.63,289.40v-1.6M368.40,289.40v-1.6M375.17,289.40v-1.6M381.93,289.40v-1.6M388.70,289.40v-1.6M395.47,289.40v-1.6M402.23,289.40v-1.6M409.00,289.40v-1.6M415.77,289.40v-1.6M422.53,289.40v-1.6M429.30,289.40v-1.6M436.07,289.40v-1.6M442.83,289.40v-1.6M449.60,289.40v-1.6M456.37,289.40v-1.6M463.13,289.40v-1.6M469.90,289.40v-1.6M476.67,289.40v-1.6M483.43,289.40v-1.6M490.20,289.40v-1.6M496.97,289.40v-1.6M503.73,289.40v-1.6M510.50,289.40v-1.6M307.50,289.40h1.6M307.50,285.38h1.6M307.50,281.35h1.6M307.50,277.33h1.6M307.50,273.30h1.6M307.50,269.28h1.6M307.50,265.26h1.6M307.50,261.23h1.6M307.50,257.21h1.6M307.50,253.18h1.6M307.50,249.16h1.6M307.50,245.14h1.6M307.50,241.11h1.6M307.50,237.09h1.6M307.50,233.06h1.6M307.50,229.04h1.6M307.50,225.02h1.6M307.50,220.99h1.6M307.50,216.97h1.6M307.50,212.94h1.6M307.50,208.92h1.6M307.50,204.90h1.6M307.50,200.87h1.6M307.50,196.85h1.6M307.50,192.82h1.6M307.50,188.80h1.6" stroke="#555" stroke-width="0.7" fill="none"/>
<path d="M307.50,188.80V289.40H510.50" stroke="#262626" stroke-width="0.9" fill="none"/>
<clipPath id="clip-c2"><rect x="307.50" y="186.80" width="203.00" height="106.60"/></clipPath>
<g clip-path="url(#clip-c2)">
<path d="M307.50,286.38 C309.30,286.38 314.94,286.48 318.33,286.38 C321.71,286.28 324.98,286.05 327.80,285.78 C330.62,285.51 332.31,285.34 335.24,284.77 C338.18,284.20 342.01,283.10 345.39,282.36 C348.78,281.62 352.16,280.95 355.54,280.35 C358.93,279.74 362.65,279.07 365.69,278.74 C368.74,278.40 371.44,278.17 373.81,278.33 C376.18,278.50 377.99,279.17 379.90,279.74 C381.82,280.31 383.62,281.15 385.32,281.75 C387.01,282.36 387.23,282.76 390.05,283.36 C392.87,283.97 397.95,285.04 402.23,285.38 C406.52,285.71 411.08,285.54 415.77,285.38 C420.46,285.21 426.55,284.91 430.38,284.37 C434.22,283.83 435.94,282.86 438.77,282.16 C441.60,281.45 444.55,280.68 447.37,280.14 C450.19,279.61 452.89,278.94 455.69,278.94 C458.49,278.94 461.33,279.61 464.15,280.14 C466.97,280.68 469.84,281.45 472.61,282.16 C475.37,282.86 477.23,283.73 480.73,284.37 C484.22,285.01 488.62,285.71 493.58,285.98 C498.55,286.25 507.68,285.98 510.50,285.98" stroke="#000" stroke-width="1.75" stroke-dasharray="1.2 1.15" fill="none"/>
<path d="M307.50,289.00 C309.19,288.90 314.27,288.70 317.65,288.39 C321.03,288.09 324.87,287.76 327.80,287.19 C330.73,286.62 332.99,286.11 335.24,284.97 C337.50,283.83 339.64,281.89 341.33,280.35 C343.02,278.80 343.93,277.29 345.39,275.72 C346.86,274.14 348.44,272.37 350.13,270.89 C351.82,269.41 353.96,267.97 355.54,266.87 C357.12,265.76 358.44,264.79 359.60,264.25 C360.76,263.71 361.55,263.61 362.51,263.65 C363.47,263.68 364.49,263.98 365.36,264.45 C366.22,264.92 366.82,265.49 367.72,266.46 C368.63,267.44 369.75,269.08 370.77,270.29 C371.78,271.49 372.29,272.30 373.81,273.71 C375.34,275.11 377.87,277.33 379.90,278.74 C381.93,280.14 383.29,281.22 385.99,282.16 C388.70,283.10 392.14,283.83 396.14,284.37 C400.15,284.91 405.73,285.48 410.01,285.38 C414.30,285.28 418.64,284.37 421.86,283.77 C425.07,283.16 427.38,282.49 429.30,281.75 C431.22,281.02 431.89,280.58 433.36,279.34 C434.83,278.10 436.47,275.99 438.10,274.31 C439.72,272.63 441.64,270.86 443.10,269.28 C444.57,267.70 445.70,266.09 446.89,264.85 C448.09,263.61 448.98,262.61 450.28,261.84 C451.57,261.06 453.32,260.33 454.67,260.23 C456.03,260.13 457.33,260.76 458.40,261.23 C459.47,261.70 459.98,262.04 461.10,263.04 C462.23,264.05 463.92,265.86 465.16,267.27 C466.40,268.68 467.31,269.92 468.55,271.49 C469.79,273.07 471.25,275.11 472.61,276.72 C473.96,278.33 475.43,279.98 476.67,281.15 C477.91,282.32 478.92,283.06 480.05,283.77 C481.18,284.47 481.18,284.84 483.43,285.38 C485.69,285.91 489.07,286.65 493.58,286.99 C498.09,287.32 507.68,287.32 510.50,287.39" stroke="#000" stroke-width="1.9" fill="none" stroke-linejoin="round"/>
<path d="M316.70,285.09h4.6v4.6h-4.6zM320.76,285.09h4.6v4.6h-4.6zM326.85,285.09h4.6v4.6h-4.6zM334.97,284.69h4.6v4.6h-4.6zM339.03,284.69h4.6v4.6h-4.6zM344.11,284.28h4.6v4.6h-4.6zM348.51,284.28h4.6v4.6h-4.6zM352.57,283.88h4.6v4.6h-4.6zM357.30,283.68h4.6v4.6h-4.6zM361.36,283.68h4.6v4.6h-4.6zM366.78,283.08h4.6v4.6h-4.6zM371.51,281.06h4.6v4.6h-4.6zM376.93,278.05h4.6v4.6h-4.6zM382.34,271.81h4.6v4.6h-4.6zM387.48,276.44h4.6v4.6h-4.6zM393.17,279.66h4.6v4.6h-4.6zM398.58,282.47h4.6v4.6h-4.6zM403.72,283.88h4.6v4.6h-4.6zM408.05,283.88h4.6v4.6h-4.6zM412.11,283.68h4.6v4.6h-4.6zM418.61,283.08h4.6v4.6h-4.6zM423.62,282.47h4.6v4.6h-4.6zM430.59,272.41h4.6v4.6h-4.6zM436.47,271.41h4.6v4.6h-4.6zM441.89,278.85h4.6v4.6h-4.6zM447.10,282.07h4.6v4.6h-4.6zM452.37,282.67h4.6v4.6h-4.6zM458.13,283.68h4.6v4.6h-4.6zM463.54,284.08h4.6v4.6h-4.6zM469.63,284.08h4.6v4.6h-4.6zM474.37,284.69h4.6v4.6h-4.6zM479.10,285.09h4.6v4.6h-4.6zM483.16,285.09h4.6v4.6h-4.6zM489.25,285.09h4.6v4.6h-4.6zM494.67,285.09h4.6v4.6h-4.6zM498.73,285.09h4.6v4.6h-4.6z" fill="#000"/>
</g>
<text x="302.90" y="294.50" class="tk" text-anchor="end">0</text>
<text x="302.90" y="274.38" class="tk" text-anchor="end">0.1</text>
<text x="302.90" y="254.26" class="tk" text-anchor="end">0.2</text>
<text x="302.90" y="234.14" class="tk" text-anchor="end">0.3</text>
<text x="302.90" y="214.02" class="tk" text-anchor="end">0.4</text>
<text x="302.90" y="193.90" class="tk" text-anchor="end">0.5</text>
<text x="307.50" y="308.30" class="tk" text-anchor="middle">-1.5</text>
<text x="341.33" y="308.30" class="tk" text-anchor="middle">-1</text>
<text x="375.17" y="308.30" class="tk" text-anchor="middle">-0.5</text>
<text x="409.00" y="308.30" class="tk" text-anchor="middle">0</text>
<text x="442.83" y="308.30" class="tk" text-anchor="middle">0.5</text>
<text x="476.67" y="308.30" class="tk" text-anchor="middle">1</text>
<text x="510.50" y="308.30" class="tk" text-anchor="middle">1.5</text>
<text x="409.20" y="184.00" class="ttl" text-anchor="middle" textLength="58.5" lengthAdjust="spacingAndGlyphs">y = 25 mm</text>
<g transform="translate(274.90,240.10) rotate(-90)"><text x="0" y="4.6" class="yl" text-anchor="middle">Z</text><path d="M-2.4,-6.9h5.8" stroke="#262626" stroke-width="0.9"/></g>
<rect x="408.40" y="195.20" width="96.4" height="45" fill="#fff" stroke="#999" stroke-width="0.8"/>
<rect x="420.5" y="203" width="3.2" height="3.2" fill="#000"/>
<path d="M411,218.8H433" stroke="#000" stroke-width="1.5" stroke-dasharray="1.3 1.3"/>
<path d="M411,231.9H433" stroke="#000" stroke-width="1.6"/>
<text x="435.6" y="208.3" class="lg">Exp. data</text>
<text x="435.6" y="223" class="lg">LES-CMC</text>
<text x="435.6" y="236.9" class="lg">URANS-FGM</text>
<path d="M40.50,351.80V452.40M47.27,351.80V452.40M54.03,351.80V452.40M60.80,351.80V452.40M67.57,351.80V452.40M74.33,351.80V452.40M81.10,351.80V452.40M87.87,351.80V452.40M94.63,351.80V452.40M101.40,351.80V452.40M108.17,351.80V452.40M114.93,351.80V452.40M121.70,351.80V452.40M128.47,351.80V452.40M135.23,351.80V452.40M142.00,351.80V452.40M148.77,351.80V452.40M155.53,351.80V452.40M162.30,351.80V452.40M169.07,351.80V452.40M175.83,351.80V452.40M182.60,351.80V452.40M189.37,351.80V452.40M196.13,351.80V452.40M202.90,351.80V452.40M209.67,351.80V452.40M216.43,351.80V452.40M223.20,351.80V452.40M229.97,351.80V452.40M236.73,351.80V452.40M243.50,351.80V452.40M40.50,452.40H243.50M40.50,448.38H243.50M40.50,444.35H243.50M40.50,440.33H243.50M40.50,436.30H243.50M40.50,432.28H243.50M40.50,428.26H243.50M40.50,424.23H243.50M40.50,420.21H243.50M40.50,416.18H243.50M40.50,412.16H243.50M40.50,408.14H243.50M40.50,404.11H243.50M40.50,400.09H243.50M40.50,396.06H243.50M40.50,392.04H243.50M40.50,388.02H243.50M40.50,383.99H243.50M40.50,379.97H243.50M40.50,375.94H243.50M40.50,371.92H243.50M40.50,367.90H243.50M40.50,363.87H243.50M40.50,359.85H243.50M40.50,355.82H243.50M40.50,351.80H243.50" stroke="#efefef" stroke-width="1" fill="none"/>
<path d="M40.50,452.40v-1.6M47.27,452.40v-1.6M54.03,452.40v-1.6M60.80,452.40v-1.6M67.57,452.40v-1.6M74.33,452.40v-1.6M81.10,452.40v-1.6M87.87,452.40v-1.6M94.63,452.40v-1.6M101.40,452.40v-1.6M108.17,452.40v-1.6M114.93,452.40v-1.6M121.70,452.40v-1.6M128.47,452.40v-1.6M135.23,452.40v-1.6M142.00,452.40v-1.6M148.77,452.40v-1.6M155.53,452.40v-1.6M162.30,452.40v-1.6M169.07,452.40v-1.6M175.83,452.40v-1.6M182.60,452.40v-1.6M189.37,452.40v-1.6M196.13,452.40v-1.6M202.90,452.40v-1.6M209.67,452.40v-1.6M216.43,452.40v-1.6M223.20,452.40v-1.6M229.97,452.40v-1.6M236.73,452.40v-1.6M243.50,452.40v-1.6M40.50,452.40h1.6M40.50,448.38h1.6M40.50,444.35h1.6M40.50,440.33h1.6M40.50,436.30h1.6M40.50,432.28h1.6M40.50,428.26h1.6M40.50,424.23h1.6M40.50,420.21h1.6M40.50,416.18h1.6M40.50,412.16h1.6M40.50,408.14h1.6M40.50,404.11h1.6M40.50,400.09h1.6M40.50,396.06h1.6M40.50,392.04h1.6M40.50,388.02h1.6M40.50,383.99h1.6M40.50,379.97h1.6M40.50,375.94h1.6M40.50,371.92h1.6M40.50,367.90h1.6M40.50,363.87h1.6M40.50,359.85h1.6M40.50,355.82h1.6M40.50,351.80h1.6" stroke="#555" stroke-width="0.7" fill="none"/>
<path d="M40.50,351.80V452.40H243.50" stroke="#262626" stroke-width="0.9" fill="none"/>
<clipPath id="clip-c3"><rect x="40.50" y="349.80" width="203.00" height="106.60"/></clipPath>
<g clip-path="url(#clip-c3)">
<path d="M40.50,449.99 C43.88,450.05 54.35,450.25 60.80,450.39 C67.25,450.52 75.37,450.92 79.21,450.79 C83.04,450.66 82.52,450.12 83.81,449.58 C85.09,449.05 85.79,448.51 86.92,447.57 C88.05,446.63 89.29,445.49 90.57,443.95 C91.86,442.41 93.28,440.43 94.63,438.32 C95.99,436.20 97.42,433.59 98.69,431.27 C99.97,428.96 101.15,426.78 102.28,424.43 C103.41,422.09 104.42,419.74 105.46,417.19 C106.50,414.64 107.66,411.32 108.50,409.14 C109.35,406.96 109.90,405.65 110.53,404.11 C111.17,402.57 111.62,401.23 112.29,399.89 C112.97,398.55 113.87,396.37 114.59,396.06 C115.32,395.76 116.11,397.24 116.62,398.08 C117.14,398.91 117.14,399.42 117.71,401.09 C118.27,402.77 119.24,405.89 120.01,408.14 C120.78,410.38 121.58,411.89 122.31,414.57 C123.04,417.26 123.64,421.05 124.41,424.23 C125.17,427.42 126.12,430.84 126.91,433.69 C127.70,436.54 128.38,439.25 129.14,441.33 C129.91,443.41 130.61,444.99 131.51,446.16 C132.41,447.34 133.53,447.87 134.56,448.38 C135.58,448.88 135.64,449.05 137.67,449.18 C139.70,449.31 144.55,449.31 146.74,449.18 C148.92,449.05 149.73,448.85 150.80,448.38 C151.87,447.91 152.40,447.27 153.17,446.36 C153.93,445.46 154.72,444.45 155.40,442.94 C156.07,441.43 156.59,439.62 157.23,437.31 C157.86,435.00 158.57,431.91 159.19,429.06 C159.81,426.21 160.32,423.26 160.95,420.21 C161.58,417.16 162.36,413.43 162.98,410.75 C163.60,408.07 164.14,405.82 164.67,404.11 C165.20,402.40 165.54,401.76 166.16,400.49 C166.78,399.22 167.68,396.87 168.39,396.47 C169.10,396.06 169.77,397.14 170.42,398.08 C171.07,399.01 171.64,400.16 172.31,402.10 C172.99,404.04 173.71,407.03 174.48,409.75 C175.25,412.46 176.01,415.71 176.92,418.40 C177.82,421.08 178.87,423.53 179.89,425.84 C180.92,428.16 182.06,430.37 183.07,432.28 C184.09,434.19 184.97,435.80 185.98,437.31 C187.00,438.82 188.15,439.93 189.16,441.33 C190.18,442.74 191.02,444.45 192.07,445.76 C193.12,447.07 193.88,448.34 195.46,449.18 C197.04,450.02 199.18,450.52 201.55,450.79 C203.91,451.06 206.06,450.86 209.67,450.79 C213.28,450.72 217.56,450.52 223.20,450.39 C228.84,450.25 240.12,450.05 243.50,449.99" stroke="#000" stroke-width="1.75" stroke-dasharray="1.2 1.15" fill="none"/>
<path d="M40.50,452.40 C43.88,452.40 55.88,452.30 60.80,452.40 C65.72,452.50 66.42,452.90 70.00,453.00 C73.59,453.10 79.79,453.24 82.32,453.00 C84.84,452.77 84.39,452.23 85.16,451.60 C85.93,450.96 86.24,450.72 86.92,449.18 C87.60,447.64 88.45,444.92 89.22,442.34 C89.99,439.76 90.73,436.54 91.52,433.69 C92.31,430.84 93.18,427.79 93.96,425.24 C94.73,422.69 95.40,420.58 96.19,418.40 C96.98,416.22 97.93,413.97 98.69,412.16 C99.46,410.35 99.89,408.94 100.79,407.53 C101.69,406.12 103.09,404.68 104.11,403.71 C105.12,402.74 105.75,402.37 106.88,401.70 C108.01,401.03 109.59,400.29 110.87,399.69 C112.16,399.08 113.58,398.24 114.59,398.08 C115.61,397.91 116.20,398.34 116.96,398.68 C117.73,399.01 118.29,399.35 119.20,400.09 C120.10,400.83 121.34,402.23 122.38,403.11 C123.41,403.98 124.18,404.62 125.42,405.32 C126.66,406.02 128.29,406.79 129.82,407.33 C131.35,407.87 132.29,408.24 134.62,408.54 C136.96,408.84 141.27,409.18 143.83,409.14 C146.39,409.11 147.81,408.97 149.98,408.34 C152.16,407.70 154.72,406.59 156.89,405.32 C159.05,404.04 161.06,402.00 162.98,400.69 C164.89,399.38 167.04,397.91 168.39,397.47 C169.74,397.04 170.19,397.71 171.10,398.08 C172.00,398.44 172.79,399.01 173.80,399.69 C174.82,400.36 176.17,401.30 177.19,402.10 C178.20,402.90 178.99,403.58 179.89,404.51 C180.80,405.45 181.81,406.46 182.60,407.73 C183.39,409.01 183.95,410.42 184.63,412.16 C185.31,413.90 185.90,415.88 186.66,418.20 C187.42,420.51 188.37,423.36 189.16,426.04 C189.95,428.73 190.63,431.48 191.40,434.29 C192.16,437.11 192.98,440.53 193.77,442.94 C194.55,445.36 195.34,447.37 196.13,448.78 C196.92,450.19 197.09,450.69 198.50,451.39 C199.91,452.10 202.05,452.74 204.59,453.00 C207.13,453.27 211.19,453.10 213.73,453.00 C216.26,452.90 214.85,452.60 219.82,452.40 C224.78,452.20 239.55,451.90 243.50,451.80" stroke="#000" stroke-width="1.9" fill="none" stroke-linejoin="round"/>
<path d="M81.91,434.21h4.6v4.6h-4.6zM88.21,432.19h4.6v4.6h-4.6zM93.08,432.60h4.6v4.6h-4.6zM99.24,430.18h4.6v4.6h-4.6zM104.31,429.18h4.6v4.6h-4.6zM109.99,428.37h4.6v4.6h-4.6zM115.88,423.34h4.6v4.6h-4.6zM120.48,406.44h4.6v4.6h-4.6zM125.90,393.36h4.6v4.6h-4.6zM131.58,377.47h4.6v4.6h-4.6zM137.20,388.73h4.6v4.6h-4.6zM142.00,394.97h4.6v4.6h-4.6zM146.47,376.66h4.6v4.6h-4.6zM153.10,376.66h4.6v4.6h-4.6zM158.44,403.82h4.6v4.6h-4.6zM164.20,424.75h4.6v4.6h-4.6zM169.20,427.57h4.6v4.6h-4.6zM174.62,428.77h4.6v4.6h-4.6zM179.49,432.19h4.6v4.6h-4.6zM185.37,433.80h4.6v4.6h-4.6z" fill="#000"/>
</g>
<text x="35.90" y="457.50" class="tk" text-anchor="end">0</text>
<text x="35.90" y="437.38" class="tk" text-anchor="end">0.1</text>
<text x="35.90" y="417.26" class="tk" text-anchor="end">0.2</text>
<text x="35.90" y="397.14" class="tk" text-anchor="end">0.3</text>
<text x="35.90" y="377.02" class="tk" text-anchor="end">0.4</text>
<text x="35.90" y="356.90" class="tk" text-anchor="end">0.5</text>
<text x="40.50" y="471.30" class="tk" text-anchor="middle">-1.5</text>
<text x="74.33" y="471.30" class="tk" text-anchor="middle">-1</text>
<text x="108.17" y="471.30" class="tk" text-anchor="middle">-0.5</text>
<text x="142.00" y="471.30" class="tk" text-anchor="middle">0</text>
<text x="175.83" y="471.30" class="tk" text-anchor="middle">0.5</text>
<text x="209.67" y="471.30" class="tk" text-anchor="middle">1</text>
<text x="243.50" y="471.30" class="tk" text-anchor="middle">1.5</text>
<text x="142.20" y="347.00" class="ttl" text-anchor="middle" textLength="58.5" lengthAdjust="spacingAndGlyphs">y = 15 mm</text>
<g transform="translate(7.90,403.10) rotate(-90)"><text x="0" y="4.6" class="yl" text-anchor="middle">Z</text><path d="M-2.4,-6.9h5.8" stroke="#262626" stroke-width="0.9"/></g>
<path d="M307.50,351.80V452.40M314.27,351.80V452.40M321.03,351.80V452.40M327.80,351.80V452.40M334.57,351.80V452.40M341.33,351.80V452.40M348.10,351.80V452.40M354.87,351.80V452.40M361.63,351.80V452.40M368.40,351.80V452.40M375.17,351.80V452.40M381.93,351.80V452.40M388.70,351.80V452.40M395.47,351.80V452.40M402.23,351.80V452.40M409.00,351.80V452.40M415.77,351.80V452.40M422.53,351.80V452.40M429.30,351.80V452.40M436.07,351.80V452.40M442.83,351.80V452.40M449.60,351.80V452.40M456.37,351.80V452.40M463.13,351.80V452.40M469.90,351.80V452.40M476.67,351.80V452.40M483.43,351.80V452.40M490.20,351.80V452.40M496.97,351.80V452.40M503.73,351.80V452.40M510.50,351.80V452.40M307.50,452.40H510.50M307.50,448.38H510.50M307.50,444.35H510.50M307.50,440.33H510.50M307.50,436.30H510.50M307.50,432.28H510.50M307.50,428.26H510.50M307.50,424.23H510.50M307.50,420.21H510.50M307.50,416.18H510.50M307.50,412.16H510.50M307.50,408.14H510.50M307.50,404.11H510.50M307.50,400.09H510.50M307.50,396.06H510.50M307.50,392.04H510.50M307.50,388.02H510.50M307.50,383.99H510.50M307.50,379.97H510.50M307.50,375.94H510.50M307.50,371.92H510.50M307.50,367.90H510.50M307.50,363.87H510.50M307.50,359.85H510.50M307.50,355.82H510.50M307.50,351.80H510.50" stroke="#efefef" stroke-width="1" fill="none"/>
<path d="M307.50,452.40v-1.6M314.27,452.40v-1.6M321.03,452.40v-1.6M327.80,452.40v-1.6M334.57,452.40v-1.6M341.33,452.40v-1.6M348.10,452.40v-1.6M354.87,452.40v-1.6M361.63,452.40v-1.6M368.40,452.40v-1.6M375.17,452.40v-1.6M381.93,452.40v-1.6M388.70,452.40v-1.6M395.47,452.40v-1.6M402.23,452.40v-1.6M409.00,452.40v-1.6M415.77,452.40v-1.6M422.53,452.40v-1.6M429.30,452.40v-1.6M436.07,452.40v-1.6M442.83,452.40v-1.6M449.60,452.40v-1.6M456.37,452.40v-1.6M463.13,452.40v-1.6M469.90,452.40v-1.6M476.67,452.40v-1.6M483.43,452.40v-1.6M490.20,452.40v-1.6M496.97,452.40v-1.6M503.73,452.40v-1.6M510.50,452.40v-1.6M307.50,452.40h1.6M307.50,448.38h1.6M307.50,444.35h1.6M307.50,440.33h1.6M307.50,436.30h1.6M307.50,432.28h1.6M307.50,428.26h1.6M307.50,424.23h1.6M307.50,420.21h1.6M307.50,416.18h1.6M307.50,412.16h1.6M307.50,408.14h1.6M307.50,404.11h1.6M307.50,400.09h1.6M307.50,396.06h1.6M307.50,392.04h1.6M307.50,388.02h1.6M307.50,383.99h1.6M307.50,379.97h1.6M307.50,375.94h1.6M307.50,371.92h1.6M307.50,367.90h1.6M307.50,363.87h1.6M307.50,359.85h1.6M307.50,355.82h1.6M307.50,351.80h1.6" stroke="#555" stroke-width="0.7" fill="none"/>
<path d="M307.50,351.80V452.40H510.50" stroke="#262626" stroke-width="0.9" fill="none"/>
<clipPath id="clip-c4"><rect x="307.50" y="349.80" width="203.00" height="106.60"/></clipPath>
<g clip-path="url(#clip-c4)">
<path d="M307.50,451.39 C310.43,451.13 320.58,450.29 325.09,449.78 C329.60,449.28 331.18,448.81 334.57,448.38 C337.95,447.94 341.56,447.54 345.39,447.17 C349.23,446.80 354.19,446.33 357.57,446.16 C360.96,446.00 362.99,446.00 365.69,446.16 C368.40,446.33 370.43,446.67 373.81,447.17 C377.20,447.67 380.13,448.74 385.99,449.18 C391.86,449.62 401.78,449.92 409.00,449.78 C416.22,449.65 423.10,449.05 429.30,448.38 C435.50,447.71 441.71,446.36 446.22,445.76 C450.73,445.16 453.72,444.96 456.37,444.75 C459.02,444.55 459.19,444.35 462.12,444.55 C465.05,444.75 470.41,445.46 473.96,445.96 C477.51,446.46 480.05,447.00 483.43,447.57 C486.82,448.14 489.75,448.91 494.26,449.38 C498.77,449.85 507.79,450.22 510.50,450.39" stroke="#000" stroke-width="1.75" stroke-dasharray="1.2 1.15" fill="none"/>
<path d="M307.50,451.60 C309.08,451.36 314.04,450.92 316.97,450.19 C319.91,449.45 322.84,448.07 325.09,447.17 C327.35,446.26 328.81,445.49 330.51,444.75 C332.20,444.02 333.44,443.31 335.24,442.74 C337.05,442.17 339.64,441.67 341.33,441.33 C343.02,441.00 343.93,441.03 345.39,440.73 C346.86,440.43 348.78,439.69 350.13,439.52 C351.48,439.36 352.39,439.52 353.51,439.72 C354.64,439.93 355.88,440.43 356.90,440.73 C357.91,441.03 358.59,441.10 359.60,441.54 C360.62,441.97 361.97,442.81 362.99,443.35 C364.00,443.88 364.57,444.28 365.69,444.75 C366.82,445.22 368.40,445.76 369.75,446.16 C371.11,446.57 371.11,446.73 373.81,447.17 C376.52,447.60 380.13,448.44 385.99,448.78 C391.86,449.11 402.91,449.25 409.00,449.18 C415.09,449.11 418.59,448.71 422.53,448.38 C426.48,448.04 429.30,447.71 432.68,447.17 C436.07,446.63 440.24,445.96 442.83,445.16 C445.43,444.35 446.44,443.21 448.25,442.34 C450.05,441.47 452.08,440.60 453.66,439.93 C455.24,439.25 456.31,438.72 457.72,438.32 C459.13,437.91 460.65,437.65 462.12,437.51 C463.58,437.38 464.77,437.34 466.52,437.51 C468.26,437.68 470.58,438.11 472.61,438.52 C474.64,438.92 476.55,439.29 478.70,439.93 C480.84,440.56 483.43,441.37 485.46,442.34 C487.49,443.31 489.13,444.69 490.88,445.76 C492.62,446.83 494.26,447.94 495.95,448.78 C497.64,449.62 499.28,450.25 501.03,450.79 C502.77,451.33 504.86,451.73 506.44,452.00 C508.02,452.27 509.82,452.33 510.50,452.40" stroke="#000" stroke-width="1.9" fill="none" stroke-linejoin="round"/>
<path d="M314.67,448.09h4.6v4.6h-4.6zM318.73,448.09h4.6v4.6h-4.6zM322.79,448.09h4.6v4.6h-4.6zM326.85,448.09h4.6v4.6h-4.6zM330.91,447.89h4.6v4.6h-4.6zM334.97,447.89h4.6v4.6h-4.6zM339.03,447.69h4.6v4.6h-4.6zM343.09,447.48h4.6v4.6h-4.6zM347.15,447.48h4.6v4.6h-4.6zM351.21,447.28h4.6v4.6h-4.6zM355.27,447.08h4.6v4.6h-4.6zM359.33,446.88h4.6v4.6h-4.6zM363.39,446.88h4.6v4.6h-4.6zM367.45,446.68h4.6v4.6h-4.6zM371.51,446.48h4.6v4.6h-4.6zM375.57,446.28h4.6v4.6h-4.6zM379.63,446.28h4.6v4.6h-4.6zM383.69,446.68h4.6v4.6h-4.6zM387.75,446.88h4.6v4.6h-4.6zM391.81,447.08h4.6v4.6h-4.6zM395.87,447.08h4.6v4.6h-4.6zM399.93,447.08h4.6v4.6h-4.6zM403.99,447.08h4.6v4.6h-4.6zM408.05,447.08h4.6v4.6h-4.6zM412.11,447.08h4.6v4.6h-4.6zM416.17,447.08h4.6v4.6h-4.6zM420.23,446.88h4.6v4.6h-4.6zM424.29,446.88h4.6v4.6h-4.6zM436.47,442.25h4.6v4.6h-4.6zM441.89,443.66h4.6v4.6h-4.6zM445.95,446.08h4.6v4.6h-4.6zM450.01,446.88h4.6v4.6h-4.6zM454.07,447.48h4.6v4.6h-4.6zM458.13,447.69h4.6v4.6h-4.6zM462.19,447.69h4.6v4.6h-4.6zM466.25,447.89h4.6v4.6h-4.6zM470.31,447.89h4.6v4.6h-4.6zM474.37,447.89h4.6v4.6h-4.6zM478.43,448.09h4.6v4.6h-4.6zM482.49,448.09h4.6v4.6h-4.6zM486.55,448.09h4.6v4.6h-4.6zM490.61,448.09h4.6v4.6h-4.6zM494.67,448.09h4.6v4.6h-4.6zM498.73,448.09h4.6v4.6h-4.6z" fill="#000"/>
</g>
<text x="302.90" y="457.50" class="tk" text-anchor="end">0</text>
<text x="302.90" y="437.38" class="tk" text-anchor="end">0.1</text>
<text x="302.90" y="417.26" class="tk" text-anchor="end">0.2</text>
<text x="302.90" y="397.14" class="tk" text-anchor="end">0.3</text>
<text x="302.90" y="377.02" class="tk" text-anchor="end">0.4</text>
<text x="302.90" y="356.90" class="tk" text-anchor="end">0.5</text>
<text x="307.50" y="471.30" class="tk" text-anchor="middle">-1.5</text>
<text x="341.33" y="471.30" class="tk" text-anchor="middle">-1</text>
<text x="375.17" y="471.30" class="tk" text-anchor="middle">-0.5</text>
<text x="409.00" y="471.30" class="tk" text-anchor="middle">0</text>
<text x="442.83" y="471.30" class="tk" text-anchor="middle">0.5</text>
<text x="476.67" y="471.30" class="tk" text-anchor="middle">1</text>
<text x="510.50" y="471.30" class="tk" text-anchor="middle">1.5</text>
<text x="409.20" y="347.00" class="ttl" text-anchor="middle" textLength="58.5" lengthAdjust="spacingAndGlyphs">y = 30 mm</text>
<g transform="translate(274.90,403.10) rotate(-90)"><text x="0" y="4.6" class="yl" text-anchor="middle">Z</text><path d="M-2.4,-6.9h5.8" stroke="#262626" stroke-width="0.9"/></g>
<text x="409.30" y="488.40" class="xl" text-anchor="middle">Z/D<tspan dy="4" font-size="10px">b</tspan></text>
<path d="M40.50,514.80V615.40M47.27,514.80V615.40M54.03,514.80V615.40M60.80,514.80V615.40M67.57,514.80V615.40M74.33,514.80V615.40M81.10,514.80V615.40M87.87,514.80V615.40M94.63,514.80V615.40M101.40,514.80V615.40M108.17,514.80V615.40M114.93,514.80V615.40M121.70,514.80V615.40M128.47,514.80V615.40M135.23,514.80V615.40M142.00,514.80V615.40M148.77,514.80V615.40M155.53,514.80V615.40M162.30,514.80V615.40M169.07,514.80V615.40M175.83,514.80V615.40M182.60,514.80V615.40M189.37,514.80V615.40M196.13,514.80V615.40M202.90,514.80V615.40M209.67,514.80V615.40M216.43,514.80V615.40M223.20,514.80V615.40M229.97,514.80V615.40M236.73,514.80V615.40M243.50,514.80V615.40M40.50,615.40H243.50M40.50,611.38H243.50M40.50,607.35H243.50M40.50,603.33H243.50M40.50,599.30H243.50M40.50,595.28H243.50M40.50,591.26H243.50M40.50,587.23H243.50M40.50,583.21H243.50M40.50,579.18H243.50M40.50,575.16H243.50M40.50,571.14H243.50M40.50,567.11H243.50M40.50,563.09H243.50M40.50,559.06H243.50M40.50,555.04H243.50M40.50,551.02H243.50M40.50,546.99H243.50M40.50,542.97H243.50M40.50,538.94H243.50M40.50,534.92H243.50M40.50,530.90H243.50M40.50,526.87H243.50M40.50,522.85H243.50M40.50,518.82H243.50M40.50,514.80H243.50" stroke="#efefef" stroke-width="1" fill="none"/>
<path d="M40.50,615.40v-1.6M47.27,615.40v-1.6M54.03,615.40v-1.6M60.80,615.40v-1.6M67.57,615.40v-1.6M74.33,615.40v-1.6M81.10,615.40v-1.6M87.87,615.40v-1.6M94.63,615.40v-1.6M101.40,615.40v-1.6M108.17,615.40v-1.6M114.93,615.40v-1.6M121.70,615.40v-1.6M128.47,615.40v-1.6M135.23,615.40v-1.6M142.00,615.40v-1.6M148.77,615.40v-1.6M155.53,615.40v-1.6M162.30,615.40v-1.6M169.07,615.40v-1.6M175.83,615.40v-1.6M182.60,615.40v-1.6M189.37,615.40v-1.6M196.13,615.40v-1.6M202.90,615.40v-1.6M209.67,615.40v-1.6M216.43,615.40v-1.6M223.20,615.40v-1.6M229.97,615.40v-1.6M236.73,615.40v-1.6M243.50,615.40v-1.6M40.50,615.40h1.6M40.50,611.38h1.6M40.50,607.35h1.6M40.50,603.33h1.6M40.50,599.30h1.6M40.50,595.28h1.6M40.50,591.26h1.6M40.50,587.23h1.6M40.50,583.21h1.6M40.50,579.18h1.6M40.50,575.16h1.6M40.50,571.14h1.6M40.50,567.11h1.6M40.50,563.09h1.6M40.50,559.06h1.6M40.50,555.04h1.6M40.50,551.02h1.6M40.50,546.99h1.6M40.50,542.97h1.6M40.50,538.94h1.6M40.50,534.92h1.6M40.50,530.90h1.6M40.50,526.87h1.6M40.50,522.85h1.6M40.50,518.82h1.6M40.50,514.80h1.6" stroke="#555" stroke-width="0.7" fill="none"/>
<path d="M40.50,514.80V615.40H243.50" stroke="#262626" stroke-width="0.9" fill="none"/>
<clipPath id="clip-c5"><rect x="40.50" y="512.80" width="203.00" height="106.60"/></clipPath>
<g clip-path="url(#clip-c5)">
<path d="M40.50,612.99 C43.88,612.99 55.88,613.05 60.80,612.99 C65.72,612.92 67.30,612.92 70.00,612.58 C72.71,612.25 74.99,611.58 77.04,610.97 C79.09,610.37 80.40,609.46 82.32,608.96 C84.24,608.46 86.49,608.49 88.54,607.96 C90.60,607.42 92.59,606.75 94.63,605.74 C96.67,604.74 99.21,602.99 100.79,601.92 C102.37,600.85 103.09,600.08 104.11,599.30 C105.12,598.53 105.98,597.63 106.88,597.29 C107.78,596.96 108.74,597.16 109.52,597.29 C110.30,597.43 110.76,597.63 111.55,598.10 C112.34,598.57 113.23,599.27 114.26,600.11 C115.28,600.95 116.58,602.09 117.71,603.13 C118.84,604.17 120.01,605.41 121.02,606.35 C122.04,607.28 122.67,608.06 123.80,608.76 C124.93,609.46 126.50,610.17 127.79,610.57 C129.08,610.97 127.81,611.01 131.51,611.17 C135.21,611.34 145.98,611.51 149.98,611.58 C153.99,611.64 154.21,611.78 155.53,611.58 C156.85,611.38 157.16,610.94 157.90,610.37 C158.65,609.80 159.27,609.06 160.00,608.16 C160.73,607.25 161.53,606.11 162.30,604.94 C163.07,603.76 163.81,602.56 164.60,601.11 C165.39,599.67 166.29,597.66 167.04,596.29 C167.78,594.91 168.28,593.74 169.07,592.87 C169.86,591.99 170.98,591.46 171.77,591.05 C172.56,590.65 173.01,590.32 173.80,590.45 C174.59,590.59 175.49,591.09 176.51,591.86 C177.53,592.63 178.31,593.30 179.89,595.08 C181.47,596.86 184.40,600.71 185.98,602.52 C187.56,604.33 188.07,604.90 189.37,605.94 C190.66,606.98 192.41,607.99 193.77,608.76 C195.12,609.53 196.19,610.03 197.49,610.57 C198.78,611.11 199.32,611.44 201.55,611.98 C203.77,612.52 207.77,613.52 210.82,613.79 C213.86,614.06 214.37,613.72 219.82,613.59 C225.26,613.46 239.55,613.09 243.50,612.99" stroke="#000" stroke-width="1.75" stroke-dasharray="1.2 1.15" fill="none"/>
<path d="M40.50,614.80 C43.88,614.76 55.88,614.70 60.80,614.60 C65.72,614.49 67.44,614.43 70.00,614.19 C72.56,613.96 74.71,613.66 76.16,613.19 C77.62,612.72 77.96,612.21 78.73,611.38 C79.50,610.54 80.03,609.63 80.76,608.16 C81.49,606.68 82.35,604.47 83.13,602.52 C83.91,600.58 84.64,598.47 85.43,596.49 C86.22,594.51 87.10,592.43 87.87,590.65 C88.63,588.88 89.30,587.40 90.03,585.82 C90.77,584.25 91.50,582.64 92.27,581.20 C93.03,579.75 93.73,578.31 94.63,577.17 C95.54,576.03 96.65,575.13 97.68,574.36 C98.70,573.58 99.78,573.08 100.79,572.54 C101.81,572.01 102.87,571.50 103.77,571.14 C104.67,570.77 105.41,570.40 106.20,570.33 C106.99,570.26 107.74,570.43 108.50,570.73 C109.27,571.04 109.96,571.34 110.81,572.14 C111.65,572.95 112.68,574.46 113.58,575.56 C114.48,576.67 115.20,577.78 116.22,578.78 C117.23,579.79 118.41,580.83 119.67,581.60 C120.93,582.37 122.22,582.87 123.80,583.41 C125.38,583.95 127.34,584.42 129.14,584.82 C130.95,585.22 132.18,585.62 134.62,585.82 C137.07,586.02 141.27,586.06 143.83,586.02 C146.39,585.99 148.26,585.89 149.98,585.62 C151.71,585.35 152.76,584.92 154.18,584.42 C155.60,583.91 157.04,583.41 158.51,582.60 C159.98,581.80 161.44,580.69 162.98,579.59 C164.51,578.48 166.36,577.10 167.71,575.96 C169.07,574.82 170.08,573.55 171.10,572.75 C172.11,571.94 172.56,571.54 173.80,571.14 C175.04,570.73 177.19,570.33 178.54,570.33 C179.89,570.33 180.91,570.73 181.92,571.14 C182.94,571.54 183.67,572.01 184.63,572.75 C185.59,573.48 186.66,574.42 187.67,575.56 C188.69,576.70 189.70,577.98 190.72,579.59 C191.74,581.20 192.75,583.17 193.77,585.22 C194.78,587.27 195.91,589.78 196.81,591.86 C197.71,593.94 198.39,595.88 199.18,597.69 C199.97,599.51 200.76,601.11 201.55,602.72 C202.34,604.33 203.13,606.08 203.91,607.35 C204.70,608.63 205.32,609.40 206.28,610.37 C207.24,611.34 208.65,612.55 209.67,613.19 C210.68,613.82 210.68,613.92 212.37,614.19 C214.06,614.46 214.63,614.70 219.82,614.80 C225.00,614.90 239.55,614.80 243.50,614.80" stroke="#000" stroke-width="1.9" fill="none" stroke-linejoin="round"/>
<path d="M82.86,596.00h4.6v4.6h-4.6zM87.73,594.99h4.6v4.6h-4.6zM93.48,594.99h4.6v4.6h-4.6zM99.24,594.59h4.6v4.6h-4.6zM104.31,589.56h4.6v4.6h-4.6zM110.47,589.56h4.6v4.6h-4.6zM115.07,580.30h4.6v4.6h-4.6zM120.48,575.48h4.6v4.6h-4.6zM126.91,577.29h4.6v4.6h-4.6zM132.32,583.52h4.6v4.6h-4.6zM137.20,582.12h4.6v4.6h-4.6zM141.53,590.77h4.6v4.6h-4.6zM147.68,583.72h4.6v4.6h-4.6zM153.23,576.88h4.6v4.6h-4.6zM159.19,565.82h4.6v4.6h-4.6zM163.52,584.13h4.6v4.6h-4.6zM169.20,589.36h4.6v4.6h-4.6zM174.21,595.80h4.6v4.6h-4.6zM179.96,592.98h4.6v4.6h-4.6zM185.37,593.78h4.6v4.6h-4.6zM190.79,593.78h4.6v4.6h-4.6zM196.20,596.00h4.6v4.6h-4.6z" fill="#000"/>
</g>
<text x="35.90" y="620.50" class="tk" text-anchor="end">0</text>
<text x="35.90" y="600.38" class="tk" text-anchor="end">0.1</text>
<text x="35.90" y="580.26" class="tk" text-anchor="end">0.2</text>
<text x="35.90" y="560.14" class="tk" text-anchor="end">0.3</text>
<text x="35.90" y="540.02" class="tk" text-anchor="end">0.4</text>
<text x="35.90" y="519.90" class="tk" text-anchor="end">0.5</text>
<text x="40.50" y="634.30" class="tk" text-anchor="middle">-1.5</text>
<text x="74.33" y="634.30" class="tk" text-anchor="middle">-1</text>
<text x="108.17" y="634.30" class="tk" text-anchor="middle">-0.5</text>
<text x="142.00" y="634.30" class="tk" text-anchor="middle">0</text>
<text x="175.83" y="634.30" class="tk" text-anchor="middle">0.5</text>
<text x="209.67" y="634.30" class="tk" text-anchor="middle">1</text>
<text x="243.50" y="634.30" class="tk" text-anchor="middle">1.5</text>
<text x="142.20" y="510.00" class="ttl" text-anchor="middle" textLength="58.5" lengthAdjust="spacingAndGlyphs">y = 20 mm</text>
<g transform="translate(7.90,566.10) rotate(-90)"><text x="0" y="4.6" class="yl" text-anchor="middle">Z</text><path d="M-2.4,-6.9h5.8" stroke="#262626" stroke-width="0.9"/></g>
<text x="142.30" y="651.40" class="xl" text-anchor="middle">Z/D<tspan dy="4" font-size="10px">b</tspan></text>
<text x="88.5" y="26.3" class="lab">a)</text>
<text x="18.5" y="169.6" class="lab">b)</text>
</svg>
</body></html>
